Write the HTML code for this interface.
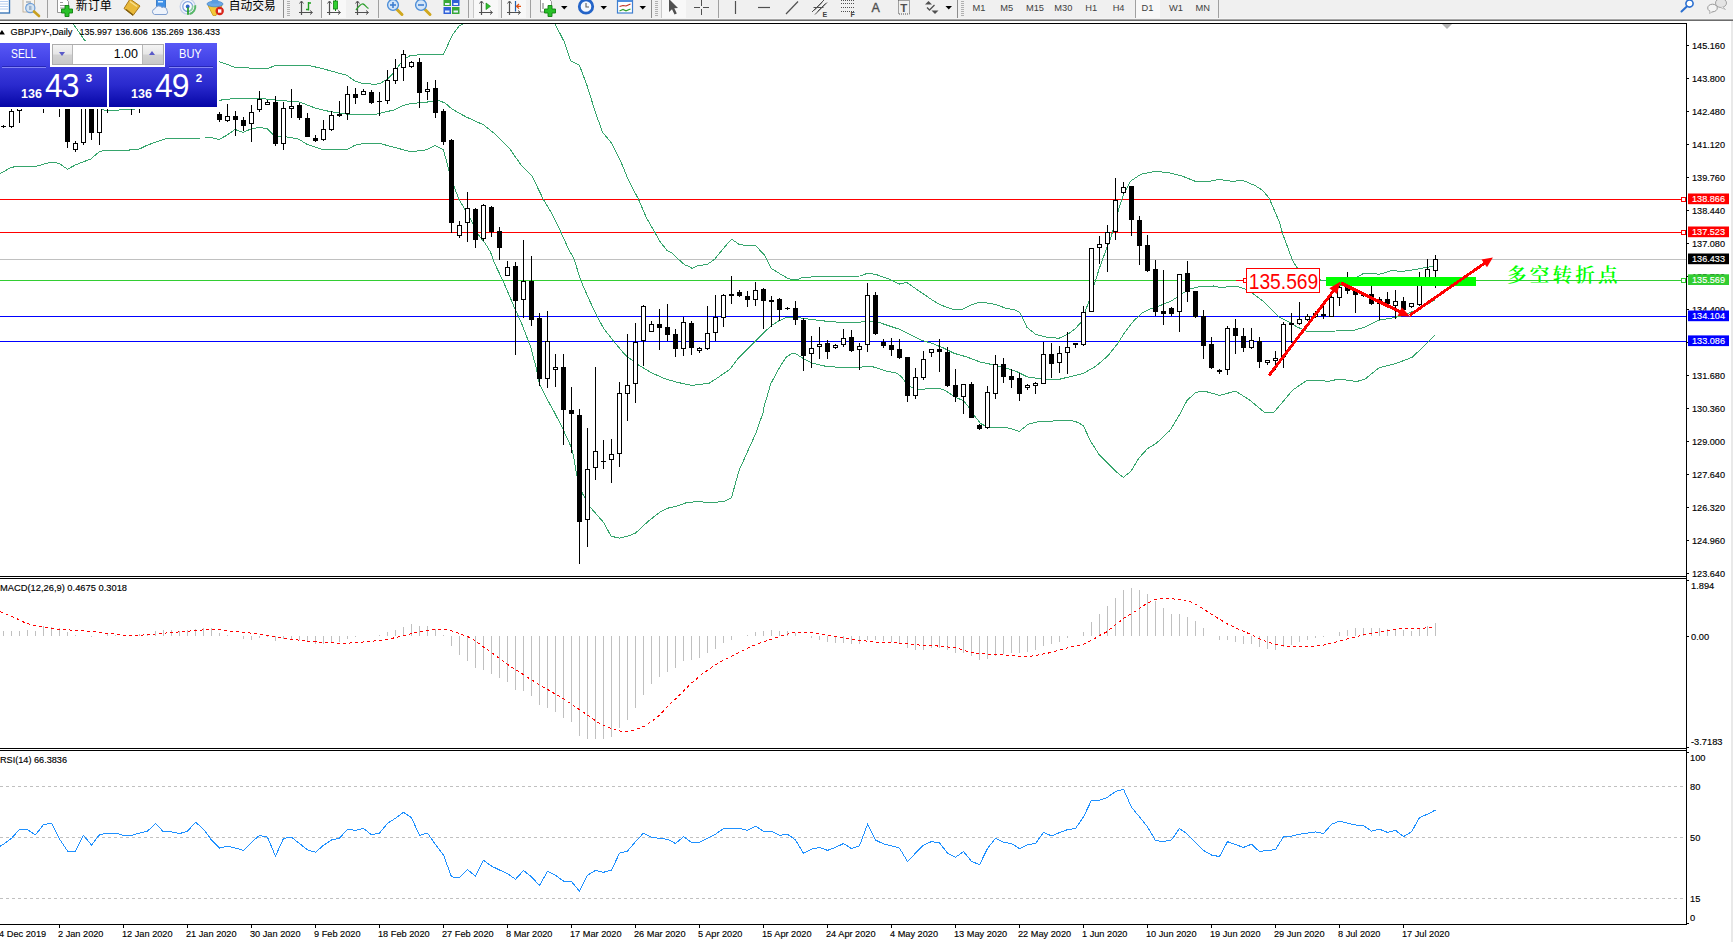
<!DOCTYPE html>
<html><head><meta charset="utf-8"><title>GBPJPY Daily</title>
<style>
html,body{margin:0;padding:0;background:#fff}
body{width:1733px;height:942px;overflow:hidden;position:relative;font-family:"Liberation Sans","Noto Sans CJK SC",sans-serif}
#tb{position:absolute;left:0;top:0;width:1733px;height:18px;background:#f0f0f0;overflow:hidden}
#tb0{position:absolute;left:0;top:18px;width:1733px;height:1px;background:#f5f5f5}
#tb1{position:absolute;left:0;top:19px;width:1733px;height:1px;background:#a6a6a6}
#tb2{position:absolute;left:0;top:20px;width:1733px;height:1px;background:#6c6c6c}
</style></head><body>
<svg width="1733" height="942" viewBox="0 0 1733 942" style="position:absolute;left:0;top:0" font-family="'Liberation Sans','Noto Sans CJK SC',sans-serif">
<defs><clipPath id="cm"><rect x="0" y="24" width="1686" height="552"/></clipPath><clipPath id="c2"><rect x="0" y="579" width="1686" height="169"/></clipPath><clipPath id="c3"><rect x="0" y="751" width="1686" height="173"/></clipPath></defs>
<g shape-rendering="crispEdges">
<rect x="0" y="23" width="1687" height="1" fill="#000" />
<rect x="1686" y="23" width="1" height="902" fill="#000" />
<rect x="0" y="576" width="1687" height="1" fill="#000" />
<rect x="0" y="578" width="1687" height="1" fill="#000" />
<rect x="0" y="748" width="1687" height="1" fill="#000" />
<rect x="0" y="750" width="1687" height="1" fill="#000" />
<rect x="0" y="924" width="1687" height="1" fill="#000" />
<rect x="1731" y="21" width="2" height="921" fill="#e9e9e9" />
</g>
<g clip-path="url(#cm)">
<g shape-rendering="crispEdges">
<rect x="0" y="199" width="1681" height="1" fill="#ff0000" />
<rect x="0" y="232" width="1681" height="1" fill="#ff0000" />
<rect x="0" y="259" width="1686" height="1" fill="#c0c0c0" />
<rect x="0" y="280" width="1681" height="1" fill="#32cd32" />
<rect x="0" y="316" width="1686" height="1" fill="#0000ff" />
<rect x="0" y="341" width="1686" height="1" fill="#0000ff" />
</g>
<rect x="1681.5" y="197.5" width="4" height="4" fill="#fff" stroke="#ff0000" stroke-width="1"/>
<rect x="1681.5" y="230.5" width="4" height="4" fill="#fff" stroke="#ff0000" stroke-width="1"/>
<rect x="1681.5" y="278.5" width="4" height="4" fill="#fff" stroke="#32cd32" stroke-width="1"/>
<polygon points="1442,24 1452,24 1447,29" fill="#b4b4b4"/>
<polyline points="66.0,10.0 73.3,24.0 84.8,40.5 95.0,50.0 140.0,56.0 200.0,58.0 219.0,61.5 235.0,67.3 251.0,68.1 268.0,68.3 275.0,65.7 308.0,65.2 325.0,69.3 347.0,75.4 355.0,81.1 363.0,83.5 375.0,84.3 380.0,83.5 387.0,79.5 395.0,71.4 403.0,59.9 411.0,55.2 427.0,54.7 435.0,54.7 443.5,54.3 452.1,35.6 459.0,26.0 462.5,24.0 470.0,10.0 510.0,-30.0 548.0,10.0 555.1,24.0 564.6,42.5 570.7,60.7 579.3,65.0 587.1,85.8 595.8,113.5 602.7,132.5 611.4,142.9 620.4,160.6 629.0,181.4 638.6,199.5 646.4,217.7 655.0,232.6 660.2,241.9 667.2,250.6 672.3,253.2 677.7,258.7 684.6,264.7 690.0,266.9 692.1,268.6 698.3,265.5 707.3,264.5 714.9,258.9 721.9,250.3 727.4,243.7 731.6,239.2 739.2,244.4 744.7,245.4 755.4,245.4 764.4,255.1 771.0,268.3 780.0,273.8 787.6,278.3 792.5,279.7 798.7,279.7 799.4,278.3 807.1,277.2 824.4,276.4 843.5,276.4 859.9,276.0 867.7,273.2 876.4,274.6 888.5,278.9 899.7,284.1 906.7,282.4 916.2,289.0 931.8,299.7 940.4,304.9 952.5,309.2 962.9,309.2 971.6,304.9 980.2,302.0 995.8,304.4 1006.2,308.4 1014.8,309.8 1020.0,312.7 1027.0,327.4 1035.6,334.3 1038.5,335.2 1048.9,337.8 1059.3,338.1 1067.9,334.3 1075.0,329.0 1081.0,322.3 1088.9,301.6 1094.4,284.2 1099.2,268.7 1106.2,249.6 1111.4,235.8 1118.3,210.7 1123.5,194.2 1130.4,181.3 1140.8,174.3 1154.6,171.4 1168.5,172.6 1182.3,176.1 1195.3,181.3 1210.0,181.3 1218.7,179.5 1232.5,181.3 1242.9,180.4 1255.0,185.6 1262.0,189.9 1268.9,197.7 1274.1,209.8 1279.3,221.9 1282.7,234.0 1287.9,247.9 1292.5,260.4 1296.8,267.3 1303.0,274.0 1312.0,279.0 1330.0,281.0 1350.0,278.5 1357.8,276.8 1362.6,274.0 1372.3,273.2 1379.3,274.3 1393.1,270.2 1400.0,271.6 1413.9,269.8 1427.7,267.1 1434.5,266.4" fill="none" stroke="#36a56c" stroke-width="1" shape-rendering="crispEdges" />
<polyline points="0.0,95.0 60.0,100.0 100.0,106.0 102.6,109.1 104.8,110.6 118.6,110.6 119.9,109.4 134.6,109.4 136.0,105.0 160.0,103.0 200.0,101.0 219.0,100.3 235.0,98.4 260.0,98.4 275.0,100.0 290.0,101.3 300.0,102.1 315.0,108.0 330.0,111.6 347.0,114.2 363.0,114.5 375.0,114.5 395.0,109.7 403.0,105.6 411.0,103.5 427.0,102.1 435.0,100.8 440.0,101.0 445.2,103.1 452.1,109.1 466.0,116.9 483.3,124.7 495.4,134.2 509.2,148.1 521.4,165.4 532.1,176.2 543.4,199.5 551.2,212.5 559.8,229.8 568.5,248.9 573.9,258.7 580.8,280.6 589.4,300.2 597.2,316.5 603.3,327.9 613.7,341.4 625.8,355.6 638.8,365.1 651.8,372.9 665.6,379.0 677.7,382.4 691.6,385.4 708.9,383.3 715.8,379.0 729.7,369.4 738.3,358.2 755.6,340.9 770.8,326.0 778.6,321.0 786.4,317.4 800.2,317.9 812.3,319.6 827.9,321.4 845.2,322.7 860.8,322.2 864.2,321.0 879.8,322.7 888.5,325.7 898.9,329.1 909.3,334.3 921.4,340.1 933.5,343.9 943.9,348.2 954.3,353.4 966.4,356.8 980.2,362.0 992.3,364.6 1006.2,368.1 1016.6,371.6 1027.0,376.8 1038.5,378.5 1048.9,379.7 1059.3,379.3 1073.1,375.9 1083.5,373.3 1095.6,366.4 1107.7,356.0 1118.1,343.0 1124.3,333.0 1133.9,320.6 1142.5,312.8 1151.2,308.5 1161.6,305.0 1171.9,300.7 1180.6,294.6 1191.0,288.6 1201.4,286.3 1213.5,286.0 1220.4,287.4 1236.0,286.3 1244.6,288.6 1253.3,293.8 1263.7,301.6 1272.3,310.2 1279.3,317.1 1289.6,322.3 1296.6,326.7 1307.0,331.3 1318.5,331.5 1335.8,331.0 1353.1,330.5 1365.2,327.0 1379.1,320.1 1394.6,317.5 1405.0,314.9 1422.3,307.1 1434.5,300.2" fill="none" stroke="#36a56c" stroke-width="1" shape-rendering="crispEdges" />
<polyline points="0.0,173.8 11.0,167.5 16.0,166.5 36.0,166.3 48.0,163.0 52.0,162.3 59.0,163.3 67.5,169.3 75.0,165.1 91.0,158.9 99.5,151.5 104.0,150.6 125.0,150.4 139.0,149.2 147.0,145.3 163.0,139.5 168.0,138.1 205.0,138.0 211.0,137.5 219.0,139.5 227.0,135.2 235.0,129.5 243.0,132.3 251.0,129.0 259.0,127.4 267.0,128.6 275.0,136.3 283.0,136.5 291.0,137.6 299.0,139.2 307.0,144.4 323.0,149.6 347.0,149.6 355.0,145.2 363.0,143.6 380.0,143.5 395.0,147.6 411.0,151.7 427.0,149.7 435.0,145.4 443.5,149.8 448.7,169.7 454.2,186.6 458.6,198.7 464.6,209.0 470.7,219.4 478.5,235.0 485.4,243.7 490.6,252.3 494.4,263.0 502.9,280.6 515.0,308.9 522.0,324.4 530.6,346.9 536.6,369.4 539.2,383.3 547.9,400.6 554.8,413.0 563.5,430.3 571.4,447.6 573.9,458.0 576.5,474.5 582.5,493.5 590.3,507.3 603.3,522.1 611.1,536.2 619.4,538.2 627.5,536.2 635.3,533.3 648.3,521.2 660.4,511.7 669.1,507.7 676.0,506.5 686.4,502.7 700.2,501.3 705.4,502.5 717.5,502.1 724.5,501.3 731.4,497.8 734.8,485.7 739.2,470.1 747.0,452.8 755.6,433.8 763.0,413.0 764.3,405.8 770.8,383.7 778.6,369.0 786.4,356.8 791.5,353.9 795.4,353.4 801.9,357.7 811.5,362.9 826.2,366.4 843.5,367.6 860.8,367.2 867.7,366.0 874.6,367.2 885.0,370.7 897.1,373.3 902.3,377.6 905.8,382.8 911.0,387.1 918.8,389.7 928.3,388.6 938.7,388.3 945.6,390.6 954.3,396.7 964.0,401.0 969.2,407.9 974.4,415.7 980.5,423.5 984.8,425.6 991.7,427.5 1007.3,427.8 1014.2,429.5 1019.1,431.6 1028.1,424.3 1038.5,421.7 1050.6,421.2 1062.7,420.4 1071.4,420.4 1078.3,422.6 1083.5,426.1 1090.4,440.8 1099.1,454.6 1107.7,463.3 1116.4,471.9 1123.3,477.5 1131.1,471.1 1138.9,458.1 1147.5,448.6 1156.2,443.4 1170.0,430.4 1180.4,413.1 1187.0,400.6 1195.6,392.3 1204.2,391.1 1219.8,395.4 1235.4,391.1 1249.2,399.7 1264.8,412.7 1273.5,412.7 1283.9,400.6 1292.5,390.2 1307.2,380.2 1328.9,381.2 1339.3,379.0 1356.6,381.6 1365.2,379.0 1379.1,367.7 1396.4,363.4 1412.0,357.3 1422.3,347.8 1434.5,335.2" fill="none" stroke="#36a56c" stroke-width="1" shape-rendering="crispEdges" />
<g shape-rendering="crispEdges">
<rect x="3" y="125" width="1" height="3" fill="#000" />
<rect x="1" y="126" width="5" height="1" fill="#000" />
<rect x="11" y="109" width="1" height="19" fill="#000" />
<rect x="9" y="111" width="5" height="16" fill="#000" />
<rect x="10" y="112" width="3" height="14" fill="#fff" />
<rect x="19" y="95" width="1" height="28" fill="#000" />
<rect x="17" y="100" width="5" height="11" fill="#000" />
<rect x="18" y="101" width="3" height="9" fill="#fff" />
<rect x="27" y="80" width="1" height="22" fill="#000" />
<rect x="25" y="85" width="5" height="15" fill="#000" />
<rect x="26" y="86" width="3" height="13" fill="#fff" />
<rect x="35" y="80" width="1" height="22" fill="#000" />
<rect x="33" y="85" width="5" height="15" fill="#000" />
<rect x="43" y="80" width="1" height="33" fill="#000" />
<rect x="41" y="85" width="5" height="15" fill="#000" />
<rect x="51" y="80" width="1" height="22" fill="#000" />
<rect x="49" y="85" width="5" height="15" fill="#000" />
<rect x="50" y="86" width="3" height="13" fill="#fff" />
<rect x="59" y="80" width="1" height="37" fill="#000" />
<rect x="57" y="85" width="5" height="15" fill="#000" />
<rect x="67" y="80" width="1" height="68" fill="#000" />
<rect x="65" y="85" width="5" height="57" fill="#000" />
<rect x="75" y="141" width="1" height="11" fill="#000" />
<rect x="73" y="143" width="5" height="7" fill="#000" />
<rect x="74" y="144" width="3" height="5" fill="#fff" />
<rect x="83" y="90" width="1" height="55" fill="#000" />
<rect x="81" y="95" width="5" height="48" fill="#000" />
<rect x="82" y="96" width="3" height="46" fill="#fff" />
<rect x="91" y="90" width="1" height="50" fill="#000" />
<rect x="89" y="95" width="5" height="38" fill="#000" />
<rect x="99" y="90" width="1" height="55" fill="#000" />
<rect x="97" y="95" width="5" height="38" fill="#000" />
<rect x="98" y="96" width="3" height="36" fill="#fff" />
<rect x="107" y="80" width="1" height="33" fill="#000" />
<rect x="105" y="85" width="5" height="15" fill="#000" />
<rect x="106" y="86" width="3" height="13" fill="#fff" />
<rect x="115" y="80" width="1" height="22" fill="#000" />
<rect x="113" y="85" width="5" height="15" fill="#000" />
<rect x="123" y="80" width="1" height="22" fill="#000" />
<rect x="121" y="85" width="5" height="15" fill="#000" />
<rect x="122" y="86" width="3" height="13" fill="#fff" />
<rect x="131" y="80" width="1" height="35" fill="#000" />
<rect x="129" y="85" width="5" height="15" fill="#000" />
<rect x="139" y="80" width="1" height="33" fill="#000" />
<rect x="137" y="85" width="5" height="15" fill="#000" />
<rect x="138" y="86" width="3" height="13" fill="#fff" />
<rect x="147" y="70" width="1" height="30" fill="#000" />
<rect x="145" y="75" width="5" height="20" fill="#000" />
<rect x="146" y="76" width="3" height="18" fill="#fff" />
<rect x="155" y="70" width="1" height="30" fill="#000" />
<rect x="153" y="75" width="5" height="20" fill="#000" />
<rect x="163" y="70" width="1" height="30" fill="#000" />
<rect x="161" y="75" width="5" height="20" fill="#000" />
<rect x="162" y="76" width="3" height="18" fill="#fff" />
<rect x="171" y="70" width="1" height="30" fill="#000" />
<rect x="169" y="75" width="5" height="20" fill="#000" />
<rect x="170" y="76" width="3" height="18" fill="#fff" />
<rect x="179" y="70" width="1" height="30" fill="#000" />
<rect x="177" y="75" width="5" height="20" fill="#000" />
<rect x="187" y="70" width="1" height="30" fill="#000" />
<rect x="185" y="75" width="5" height="20" fill="#000" />
<rect x="186" y="76" width="3" height="18" fill="#fff" />
<rect x="195" y="70" width="1" height="30" fill="#000" />
<rect x="193" y="75" width="5" height="20" fill="#000" />
<rect x="203" y="70" width="1" height="30" fill="#000" />
<rect x="201" y="75" width="5" height="20" fill="#000" />
<rect x="202" y="76" width="3" height="18" fill="#fff" />
<rect x="211" y="70" width="1" height="30" fill="#000" />
<rect x="209" y="75" width="5" height="20" fill="#000" />
<rect x="219" y="112" width="1" height="10" fill="#000" />
<rect x="217" y="114" width="5" height="6" fill="#000" />
<rect x="227" y="104" width="1" height="18" fill="#000" />
<rect x="225" y="116" width="5" height="5" fill="#000" />
<rect x="226" y="117" width="3" height="3" fill="#fff" />
<rect x="235" y="111" width="1" height="25" fill="#000" />
<rect x="233" y="116" width="5" height="4" fill="#000" />
<rect x="243" y="117" width="1" height="14" fill="#000" />
<rect x="241" y="120" width="5" height="6" fill="#000" />
<rect x="251" y="105" width="1" height="37" fill="#000" />
<rect x="249" y="112" width="5" height="12" fill="#000" />
<rect x="250" y="113" width="3" height="10" fill="#fff" />
<rect x="259" y="91" width="1" height="21" fill="#000" />
<rect x="257" y="99" width="5" height="11" fill="#000" />
<rect x="258" y="100" width="3" height="9" fill="#fff" />
<rect x="267" y="100" width="1" height="5" fill="#000" />
<rect x="265" y="102" width="5" height="3" fill="#000" />
<rect x="266" y="103" width="3" height="1" fill="#fff" />
<rect x="275" y="96" width="1" height="50" fill="#000" />
<rect x="273" y="102" width="5" height="42" fill="#000" />
<rect x="283" y="102" width="1" height="48" fill="#000" />
<rect x="281" y="108" width="5" height="36" fill="#000" />
<rect x="282" y="109" width="3" height="34" fill="#fff" />
<rect x="291" y="89" width="1" height="29" fill="#000" />
<rect x="289" y="106" width="5" height="3" fill="#000" />
<rect x="290" y="107" width="3" height="1" fill="#fff" />
<rect x="299" y="103" width="1" height="17" fill="#000" />
<rect x="297" y="105" width="5" height="13" fill="#000" />
<rect x="307" y="113" width="1" height="24" fill="#000" />
<rect x="305" y="118" width="5" height="19" fill="#000" />
<rect x="315" y="135" width="1" height="7" fill="#000" />
<rect x="313" y="138" width="5" height="3" fill="#000" />
<rect x="323" y="120" width="1" height="21" fill="#000" />
<rect x="321" y="129" width="5" height="11" fill="#000" />
<rect x="322" y="130" width="3" height="9" fill="#fff" />
<rect x="331" y="111" width="1" height="20" fill="#000" />
<rect x="329" y="115" width="5" height="15" fill="#000" />
<rect x="330" y="116" width="3" height="13" fill="#fff" />
<rect x="339" y="101" width="1" height="16" fill="#000" />
<rect x="337" y="114" width="5" height="2" fill="#000" />
<rect x="347" y="86" width="1" height="34" fill="#000" />
<rect x="345" y="94" width="5" height="20" fill="#000" />
<rect x="346" y="95" width="3" height="18" fill="#fff" />
<rect x="355" y="88" width="1" height="16" fill="#000" />
<rect x="353" y="94" width="5" height="4" fill="#000" />
<rect x="363" y="89" width="1" height="6" fill="#000" />
<rect x="361" y="91" width="5" height="4" fill="#000" />
<rect x="362" y="92" width="3" height="2" fill="#fff" />
<rect x="371" y="90" width="1" height="14" fill="#000" />
<rect x="369" y="92" width="5" height="11" fill="#000" />
<rect x="379" y="92" width="1" height="24" fill="#000" />
<rect x="377" y="101" width="5" height="1" fill="#000" />
<rect x="387" y="70" width="1" height="34" fill="#000" />
<rect x="385" y="80" width="5" height="21" fill="#000" />
<rect x="386" y="81" width="3" height="19" fill="#fff" />
<rect x="395" y="59" width="1" height="25" fill="#000" />
<rect x="393" y="68" width="5" height="13" fill="#000" />
<rect x="394" y="69" width="3" height="11" fill="#fff" />
<rect x="403" y="50" width="1" height="31" fill="#000" />
<rect x="401" y="54" width="5" height="14" fill="#000" />
<rect x="402" y="55" width="3" height="12" fill="#fff" />
<rect x="411" y="61" width="1" height="7" fill="#000" />
<rect x="409" y="62" width="5" height="5" fill="#000" />
<rect x="410" y="63" width="3" height="3" fill="#fff" />
<rect x="419" y="58" width="1" height="50" fill="#000" />
<rect x="417" y="62" width="5" height="31" fill="#000" />
<rect x="427" y="82" width="1" height="18" fill="#000" />
<rect x="425" y="89" width="5" height="3" fill="#000" />
<rect x="426" y="90" width="3" height="1" fill="#fff" />
<rect x="435" y="80" width="1" height="38" fill="#000" />
<rect x="433" y="88" width="5" height="25" fill="#000" />
<rect x="443" y="109" width="1" height="36" fill="#000" />
<rect x="441" y="111" width="5" height="31" fill="#000" />
<rect x="451" y="139" width="1" height="94" fill="#000" />
<rect x="449" y="140" width="5" height="83" fill="#000" />
<rect x="459" y="221" width="1" height="17" fill="#000" />
<rect x="457" y="225" width="5" height="11" fill="#000" />
<rect x="458" y="226" width="3" height="9" fill="#fff" />
<rect x="467" y="192" width="1" height="50" fill="#000" />
<rect x="465" y="208" width="5" height="15" fill="#000" />
<rect x="466" y="209" width="3" height="13" fill="#fff" />
<rect x="475" y="208" width="1" height="40" fill="#000" />
<rect x="473" y="209" width="5" height="31" fill="#000" />
<rect x="483" y="204" width="1" height="37" fill="#000" />
<rect x="481" y="205" width="5" height="34" fill="#000" />
<rect x="482" y="206" width="3" height="32" fill="#fff" />
<rect x="491" y="206" width="1" height="31" fill="#000" />
<rect x="489" y="207" width="5" height="25" fill="#000" />
<rect x="499" y="227" width="1" height="33" fill="#000" />
<rect x="497" y="231" width="5" height="17" fill="#000" />
<rect x="507" y="261" width="1" height="15" fill="#000" />
<rect x="505" y="267" width="5" height="9" fill="#000" />
<rect x="506" y="268" width="3" height="7" fill="#fff" />
<rect x="515" y="262" width="1" height="93" fill="#000" />
<rect x="513" y="266" width="5" height="35" fill="#000" />
<rect x="523" y="240" width="1" height="78" fill="#000" />
<rect x="521" y="281" width="5" height="19" fill="#000" />
<rect x="522" y="282" width="3" height="17" fill="#fff" />
<rect x="531" y="256" width="1" height="70" fill="#000" />
<rect x="529" y="281" width="5" height="39" fill="#000" />
<rect x="539" y="313" width="1" height="73" fill="#000" />
<rect x="537" y="318" width="5" height="61" fill="#000" />
<rect x="547" y="311" width="1" height="77" fill="#000" />
<rect x="545" y="341" width="5" height="38" fill="#000" />
<rect x="546" y="342" width="3" height="36" fill="#fff" />
<rect x="555" y="354" width="1" height="33" fill="#000" />
<rect x="553" y="367" width="5" height="3" fill="#000" />
<rect x="554" y="368" width="3" height="1" fill="#fff" />
<rect x="563" y="354" width="1" height="91" fill="#000" />
<rect x="561" y="367" width="5" height="43" fill="#000" />
<rect x="571" y="387" width="1" height="66" fill="#000" />
<rect x="569" y="410" width="5" height="4" fill="#000" />
<rect x="579" y="409" width="1" height="155" fill="#000" />
<rect x="577" y="415" width="5" height="107" fill="#000" />
<rect x="587" y="428" width="1" height="119" fill="#000" />
<rect x="585" y="469" width="5" height="51" fill="#000" />
<rect x="586" y="470" width="3" height="49" fill="#fff" />
<rect x="595" y="367" width="1" height="113" fill="#000" />
<rect x="593" y="451" width="5" height="17" fill="#000" />
<rect x="594" y="452" width="3" height="15" fill="#fff" />
<rect x="603" y="440" width="1" height="29" fill="#000" />
<rect x="601" y="461" width="5" height="1" fill="#000" />
<rect x="611" y="439" width="1" height="44" fill="#000" />
<rect x="609" y="454" width="5" height="6" fill="#000" />
<rect x="610" y="455" width="3" height="4" fill="#fff" />
<rect x="619" y="382" width="1" height="85" fill="#000" />
<rect x="617" y="393" width="5" height="61" fill="#000" />
<rect x="618" y="394" width="3" height="59" fill="#fff" />
<rect x="627" y="334" width="1" height="87" fill="#000" />
<rect x="625" y="385" width="5" height="9" fill="#000" />
<rect x="626" y="386" width="3" height="7" fill="#fff" />
<rect x="635" y="323" width="1" height="80" fill="#000" />
<rect x="633" y="342" width="5" height="42" fill="#000" />
<rect x="634" y="343" width="3" height="40" fill="#fff" />
<rect x="643" y="305" width="1" height="61" fill="#000" />
<rect x="641" y="306" width="5" height="35" fill="#000" />
<rect x="642" y="307" width="3" height="33" fill="#fff" />
<rect x="651" y="321" width="1" height="11" fill="#000" />
<rect x="649" y="324" width="5" height="8" fill="#000" />
<rect x="650" y="325" width="3" height="6" fill="#fff" />
<rect x="659" y="309" width="1" height="41" fill="#000" />
<rect x="657" y="324" width="5" height="4" fill="#000" />
<rect x="667" y="304" width="1" height="37" fill="#000" />
<rect x="665" y="327" width="5" height="8" fill="#000" />
<rect x="675" y="329" width="1" height="28" fill="#000" />
<rect x="673" y="334" width="5" height="15" fill="#000" />
<rect x="683" y="317" width="1" height="39" fill="#000" />
<rect x="681" y="322" width="5" height="27" fill="#000" />
<rect x="682" y="323" width="3" height="25" fill="#fff" />
<rect x="691" y="321" width="1" height="34" fill="#000" />
<rect x="689" y="323" width="5" height="25" fill="#000" />
<rect x="699" y="347" width="1" height="6" fill="#000" />
<rect x="697" y="348" width="5" height="3" fill="#000" />
<rect x="698" y="349" width="3" height="1" fill="#fff" />
<rect x="707" y="306" width="1" height="44" fill="#000" />
<rect x="705" y="333" width="5" height="16" fill="#000" />
<rect x="706" y="334" width="3" height="14" fill="#fff" />
<rect x="715" y="295" width="1" height="46" fill="#000" />
<rect x="713" y="317" width="5" height="16" fill="#000" />
<rect x="714" y="318" width="3" height="14" fill="#fff" />
<rect x="723" y="294" width="1" height="33" fill="#000" />
<rect x="721" y="295" width="5" height="23" fill="#000" />
<rect x="722" y="296" width="3" height="21" fill="#fff" />
<rect x="731" y="276" width="1" height="28" fill="#000" />
<rect x="729" y="294" width="5" height="2" fill="#000" />
<rect x="739" y="290" width="1" height="7" fill="#000" />
<rect x="737" y="292" width="5" height="4" fill="#000" />
<rect x="747" y="291" width="1" height="16" fill="#000" />
<rect x="745" y="296" width="5" height="4" fill="#000" />
<rect x="755" y="282" width="1" height="24" fill="#000" />
<rect x="753" y="290" width="5" height="10" fill="#000" />
<rect x="754" y="291" width="3" height="8" fill="#fff" />
<rect x="763" y="288" width="1" height="41" fill="#000" />
<rect x="761" y="289" width="5" height="12" fill="#000" />
<rect x="771" y="296" width="1" height="31" fill="#000" />
<rect x="769" y="300" width="5" height="2" fill="#000" />
<rect x="779" y="298" width="1" height="23" fill="#000" />
<rect x="777" y="299" width="5" height="11" fill="#000" />
<rect x="787" y="307" width="1" height="3" fill="#000" />
<rect x="785" y="308" width="5" height="1" fill="#000" />
<rect x="795" y="301" width="1" height="24" fill="#000" />
<rect x="793" y="308" width="5" height="12" fill="#000" />
<rect x="803" y="318" width="1" height="53" fill="#000" />
<rect x="801" y="320" width="5" height="36" fill="#000" />
<rect x="811" y="336" width="1" height="32" fill="#000" />
<rect x="809" y="348" width="5" height="6" fill="#000" />
<rect x="810" y="349" width="3" height="4" fill="#fff" />
<rect x="819" y="327" width="1" height="32" fill="#000" />
<rect x="817" y="344" width="5" height="3" fill="#000" />
<rect x="818" y="345" width="3" height="1" fill="#fff" />
<rect x="827" y="340" width="1" height="19" fill="#000" />
<rect x="825" y="343" width="5" height="9" fill="#000" />
<rect x="835" y="344" width="1" height="5" fill="#000" />
<rect x="833" y="345" width="5" height="3" fill="#000" />
<rect x="834" y="346" width="3" height="1" fill="#fff" />
<rect x="843" y="329" width="1" height="18" fill="#000" />
<rect x="841" y="338" width="5" height="7" fill="#000" />
<rect x="842" y="339" width="3" height="5" fill="#fff" />
<rect x="851" y="330" width="1" height="22" fill="#000" />
<rect x="849" y="337" width="5" height="14" fill="#000" />
<rect x="859" y="343" width="1" height="27" fill="#000" />
<rect x="857" y="346" width="5" height="4" fill="#000" />
<rect x="858" y="347" width="3" height="2" fill="#fff" />
<rect x="867" y="283" width="1" height="69" fill="#000" />
<rect x="865" y="295" width="5" height="50" fill="#000" />
<rect x="866" y="296" width="3" height="48" fill="#fff" />
<rect x="875" y="292" width="1" height="43" fill="#000" />
<rect x="873" y="295" width="5" height="39" fill="#000" />
<rect x="883" y="339" width="1" height="9" fill="#000" />
<rect x="881" y="342" width="5" height="4" fill="#000" />
<rect x="891" y="338" width="1" height="18" fill="#000" />
<rect x="889" y="345" width="5" height="5" fill="#000" />
<rect x="899" y="339" width="1" height="20" fill="#000" />
<rect x="897" y="349" width="5" height="9" fill="#000" />
<rect x="907" y="357" width="1" height="45" fill="#000" />
<rect x="905" y="357" width="5" height="39" fill="#000" />
<rect x="915" y="368" width="1" height="31" fill="#000" />
<rect x="913" y="377" width="5" height="19" fill="#000" />
<rect x="914" y="378" width="3" height="17" fill="#fff" />
<rect x="923" y="351" width="1" height="29" fill="#000" />
<rect x="921" y="359" width="5" height="19" fill="#000" />
<rect x="922" y="360" width="3" height="17" fill="#fff" />
<rect x="931" y="349" width="1" height="8" fill="#000" />
<rect x="929" y="349" width="5" height="4" fill="#000" />
<rect x="930" y="350" width="3" height="2" fill="#fff" />
<rect x="939" y="339" width="1" height="33" fill="#000" />
<rect x="937" y="349" width="5" height="3" fill="#000" />
<rect x="947" y="347" width="1" height="40" fill="#000" />
<rect x="945" y="352" width="5" height="34" fill="#000" />
<rect x="955" y="369" width="1" height="33" fill="#000" />
<rect x="953" y="385" width="5" height="12" fill="#000" />
<rect x="963" y="384" width="1" height="30" fill="#000" />
<rect x="961" y="384" width="5" height="13" fill="#000" />
<rect x="962" y="385" width="3" height="11" fill="#fff" />
<rect x="971" y="382" width="1" height="36" fill="#000" />
<rect x="969" y="384" width="5" height="34" fill="#000" />
<rect x="979" y="424" width="1" height="6" fill="#000" />
<rect x="977" y="425" width="5" height="4" fill="#000" />
<rect x="987" y="386" width="1" height="43" fill="#000" />
<rect x="985" y="392" width="5" height="36" fill="#000" />
<rect x="986" y="393" width="3" height="34" fill="#fff" />
<rect x="995" y="355" width="1" height="44" fill="#000" />
<rect x="993" y="364" width="5" height="30" fill="#000" />
<rect x="994" y="365" width="3" height="28" fill="#fff" />
<rect x="1003" y="358" width="1" height="25" fill="#000" />
<rect x="1001" y="364" width="5" height="13" fill="#000" />
<rect x="1011" y="369" width="1" height="19" fill="#000" />
<rect x="1009" y="376" width="5" height="4" fill="#000" />
<rect x="1019" y="373" width="1" height="28" fill="#000" />
<rect x="1017" y="378" width="5" height="16" fill="#000" />
<rect x="1027" y="384" width="1" height="6" fill="#000" />
<rect x="1025" y="385" width="5" height="3" fill="#000" />
<rect x="1026" y="386" width="3" height="1" fill="#fff" />
<rect x="1035" y="382" width="1" height="12" fill="#000" />
<rect x="1033" y="383" width="5" height="3" fill="#000" />
<rect x="1034" y="384" width="3" height="1" fill="#fff" />
<rect x="1043" y="342" width="1" height="42" fill="#000" />
<rect x="1041" y="354" width="5" height="30" fill="#000" />
<rect x="1042" y="355" width="3" height="28" fill="#fff" />
<rect x="1051" y="343" width="1" height="35" fill="#000" />
<rect x="1049" y="354" width="5" height="10" fill="#000" />
<rect x="1059" y="346" width="1" height="27" fill="#000" />
<rect x="1057" y="353" width="5" height="10" fill="#000" />
<rect x="1058" y="354" width="3" height="8" fill="#fff" />
<rect x="1067" y="332" width="1" height="42" fill="#000" />
<rect x="1065" y="347" width="5" height="6" fill="#000" />
<rect x="1066" y="348" width="3" height="4" fill="#fff" />
<rect x="1075" y="343" width="1" height="5" fill="#000" />
<rect x="1073" y="343" width="5" height="2" fill="#000" />
<rect x="1083" y="306" width="1" height="40" fill="#000" />
<rect x="1081" y="312" width="5" height="33" fill="#000" />
<rect x="1082" y="313" width="3" height="31" fill="#fff" />
<rect x="1091" y="248" width="1" height="64" fill="#000" />
<rect x="1089" y="248" width="5" height="64" fill="#000" />
<rect x="1090" y="249" width="3" height="62" fill="#fff" />
<rect x="1099" y="236" width="1" height="28" fill="#000" />
<rect x="1097" y="244" width="5" height="4" fill="#000" />
<rect x="1098" y="245" width="3" height="2" fill="#fff" />
<rect x="1107" y="225" width="1" height="47" fill="#000" />
<rect x="1105" y="232" width="5" height="12" fill="#000" />
<rect x="1106" y="233" width="3" height="10" fill="#fff" />
<rect x="1115" y="178" width="1" height="62" fill="#000" />
<rect x="1113" y="200" width="5" height="32" fill="#000" />
<rect x="1114" y="201" width="3" height="30" fill="#fff" />
<rect x="1123" y="182" width="1" height="12" fill="#000" />
<rect x="1121" y="187" width="5" height="6" fill="#000" />
<rect x="1122" y="188" width="3" height="4" fill="#fff" />
<rect x="1131" y="186" width="1" height="50" fill="#000" />
<rect x="1129" y="186" width="5" height="34" fill="#000" />
<rect x="1139" y="216" width="1" height="49" fill="#000" />
<rect x="1137" y="220" width="5" height="26" fill="#000" />
<rect x="1147" y="235" width="1" height="37" fill="#000" />
<rect x="1145" y="245" width="5" height="26" fill="#000" />
<rect x="1155" y="260" width="1" height="56" fill="#000" />
<rect x="1153" y="269" width="5" height="43" fill="#000" />
<rect x="1163" y="270" width="1" height="55" fill="#000" />
<rect x="1161" y="311" width="5" height="3" fill="#000" />
<rect x="1171" y="307" width="1" height="9" fill="#000" />
<rect x="1169" y="308" width="5" height="6" fill="#000" />
<rect x="1179" y="274" width="1" height="58" fill="#000" />
<rect x="1177" y="274" width="5" height="38" fill="#000" />
<rect x="1178" y="275" width="3" height="36" fill="#fff" />
<rect x="1187" y="261" width="1" height="41" fill="#000" />
<rect x="1185" y="273" width="5" height="19" fill="#000" />
<rect x="1195" y="291" width="1" height="27" fill="#000" />
<rect x="1193" y="291" width="5" height="26" fill="#000" />
<rect x="1203" y="310" width="1" height="49" fill="#000" />
<rect x="1201" y="316" width="5" height="30" fill="#000" />
<rect x="1211" y="337" width="1" height="32" fill="#000" />
<rect x="1209" y="344" width="5" height="24" fill="#000" />
<rect x="1219" y="369" width="1" height="5" fill="#000" />
<rect x="1217" y="370" width="5" height="2" fill="#000" />
<rect x="1227" y="326" width="1" height="49" fill="#000" />
<rect x="1225" y="328" width="5" height="42" fill="#000" />
<rect x="1226" y="329" width="3" height="40" fill="#fff" />
<rect x="1235" y="319" width="1" height="35" fill="#000" />
<rect x="1233" y="328" width="5" height="8" fill="#000" />
<rect x="1243" y="328" width="1" height="24" fill="#000" />
<rect x="1241" y="336" width="5" height="12" fill="#000" />
<rect x="1251" y="328" width="1" height="21" fill="#000" />
<rect x="1249" y="340" width="5" height="8" fill="#000" />
<rect x="1250" y="341" width="3" height="6" fill="#fff" />
<rect x="1259" y="337" width="1" height="31" fill="#000" />
<rect x="1257" y="341" width="5" height="21" fill="#000" />
<rect x="1267" y="360" width="1" height="5" fill="#000" />
<rect x="1265" y="360" width="5" height="3" fill="#000" />
<rect x="1266" y="361" width="3" height="1" fill="#fff" />
<rect x="1275" y="351" width="1" height="19" fill="#000" />
<rect x="1273" y="358" width="5" height="3" fill="#000" />
<rect x="1274" y="359" width="3" height="1" fill="#fff" />
<rect x="1283" y="322" width="1" height="46" fill="#000" />
<rect x="1281" y="324" width="5" height="33" fill="#000" />
<rect x="1282" y="325" width="3" height="31" fill="#fff" />
<rect x="1291" y="313" width="1" height="30" fill="#000" />
<rect x="1289" y="323" width="5" height="2" fill="#000" />
<rect x="1299" y="302" width="1" height="23" fill="#000" />
<rect x="1297" y="319" width="5" height="5" fill="#000" />
<rect x="1298" y="320" width="3" height="3" fill="#fff" />
<rect x="1307" y="314" width="1" height="7" fill="#000" />
<rect x="1305" y="316" width="5" height="4" fill="#000" />
<rect x="1306" y="317" width="3" height="2" fill="#fff" />
<rect x="1315" y="311" width="1" height="7" fill="#000" />
<rect x="1313" y="313" width="5" height="4" fill="#000" />
<rect x="1314" y="314" width="3" height="2" fill="#fff" />
<rect x="1323" y="306" width="1" height="13" fill="#000" />
<rect x="1321" y="314" width="5" height="2" fill="#000" />
<rect x="1331" y="292" width="1" height="25" fill="#000" />
<rect x="1329" y="297" width="5" height="20" fill="#000" />
<rect x="1330" y="298" width="3" height="18" fill="#fff" />
<rect x="1339" y="282" width="1" height="24" fill="#000" />
<rect x="1337" y="287" width="5" height="11" fill="#000" />
<rect x="1338" y="288" width="3" height="9" fill="#fff" />
<rect x="1347" y="272" width="1" height="22" fill="#000" />
<rect x="1345" y="287" width="5" height="4" fill="#000" />
<rect x="1355" y="291" width="1" height="22" fill="#000" />
<rect x="1353" y="291" width="5" height="4" fill="#000" />
<rect x="1363" y="292" width="1" height="5" fill="#000" />
<rect x="1361" y="294" width="5" height="2" fill="#000" />
<rect x="1371" y="286" width="1" height="19" fill="#000" />
<rect x="1369" y="294" width="5" height="10" fill="#000" />
<rect x="1379" y="297" width="1" height="23" fill="#000" />
<rect x="1377" y="299" width="5" height="5" fill="#000" />
<rect x="1378" y="300" width="3" height="3" fill="#fff" />
<rect x="1387" y="292" width="1" height="16" fill="#000" />
<rect x="1385" y="299" width="5" height="5" fill="#000" />
<rect x="1395" y="290" width="1" height="29" fill="#000" />
<rect x="1393" y="301" width="5" height="5" fill="#000" />
<rect x="1394" y="302" width="3" height="3" fill="#fff" />
<rect x="1403" y="297" width="1" height="19" fill="#000" />
<rect x="1401" y="301" width="5" height="9" fill="#000" />
<rect x="1411" y="303" width="1" height="5" fill="#000" />
<rect x="1409" y="303" width="5" height="4" fill="#000" />
<rect x="1410" y="304" width="3" height="2" fill="#fff" />
<rect x="1419" y="272" width="1" height="34" fill="#000" />
<rect x="1417" y="285" width="5" height="20" fill="#000" />
<rect x="1418" y="286" width="3" height="18" fill="#fff" />
<rect x="1427" y="259" width="1" height="22" fill="#000" />
<rect x="1425" y="269" width="5" height="12" fill="#000" />
<rect x="1426" y="270" width="3" height="10" fill="#fff" />
<rect x="1435" y="255" width="1" height="33" fill="#000" />
<rect x="1433" y="259" width="5" height="12" fill="#000" />
<rect x="1434" y="260" width="3" height="10" fill="#fff" />
</g>
<rect x="1326" y="277" width="150" height="9" fill="#00ff00" shape-rendering="crispEdges"/>
<line x1="1269.0" y1="375.5" x2="1334.4" y2="289.6" stroke="#ff0000" stroke-width="2.9" shape-rendering="crispEdges"/><polygon points="1340.5,281.6 1337.0,294.1 1329.4,288.2" fill="#ff0000"/>
<line x1="1341.0" y1="283.1" x2="1401.5" y2="312.5" stroke="#ff0000" stroke-width="3.3" shape-rendering="crispEdges"/><polygon points="1410.0,316.6 1397.6,315.9 1401.8,307.3" fill="#ff0000"/>
<line x1="1409.6" y1="315.4" x2="1485.9" y2="262.3" stroke="#ff0000" stroke-width="2.9" shape-rendering="crispEdges"/><polygon points="1492.9,257.4 1487.0,267.3 1481.5,259.5" fill="#ff0000"/>
<line x1="1236" y1="280.5" x2="1244" y2="280.5" stroke="#ff0000" stroke-width="1"/>
<rect x="1243.5" y="278.5" width="3" height="4" fill="#fff" stroke="#ff0000" stroke-width="1"/>
<rect x="1246.5" y="268.5" width="73" height="24" fill="#fff" stroke="#ff0000" stroke-width="1"/>
<text x="1248.7" y="288.9" font-size="22" fill="#ff0000" textLength="69.6" lengthAdjust="spacingAndGlyphs">135.569</text>
<text x="1507" y="282.3" font-size="19.6" fill="#00ff00" font-family="'Noto Serif CJK SC',serif" font-weight="600" textLength="110.5" lengthAdjust="spacing">多空转折点</text>
</g>
<polygon points="-1,34.4 4.9,34.4 1.95,30" fill="#000"/>
<text x="10.5" y="35" font-size="9.7" fill="#000" stroke="#000" stroke-width="0.14" textLength="62" lengthAdjust="spacingAndGlyphs">GBPJPY-,Daily</text>
<text x="79.6" y="35" font-size="9.7" fill="#000" stroke="#000" stroke-width="0.14" textLength="32.4" lengthAdjust="spacingAndGlyphs">135.997</text>
<text x="115.3" y="35" font-size="9.7" fill="#000" stroke="#000" stroke-width="0.14" textLength="32.4" lengthAdjust="spacingAndGlyphs">136.606</text>
<text x="151.4" y="35" font-size="9.7" fill="#000" stroke="#000" stroke-width="0.14" textLength="32.4" lengthAdjust="spacingAndGlyphs">135.269</text>
<text x="187.6" y="35" font-size="9.7" fill="#000" stroke="#000" stroke-width="0.14" textLength="32.4" lengthAdjust="spacingAndGlyphs">136.433</text>
<rect x="1687" y="45" width="2" height="1" fill="#000" shape-rendering="crispEdges"/>
<text x="1692" y="48.8" font-size="9.3" fill="#000" stroke="#000" stroke-width="0.14" textLength="33" lengthAdjust="spacingAndGlyphs">145.160</text>
<rect x="1687" y="78" width="2" height="1" fill="#000" shape-rendering="crispEdges"/>
<text x="1692" y="81.8" font-size="9.3" fill="#000" stroke="#000" stroke-width="0.14" textLength="33" lengthAdjust="spacingAndGlyphs">143.800</text>
<rect x="1687" y="111" width="2" height="1" fill="#000" shape-rendering="crispEdges"/>
<text x="1692" y="114.8" font-size="9.3" fill="#000" stroke="#000" stroke-width="0.14" textLength="33" lengthAdjust="spacingAndGlyphs">142.480</text>
<rect x="1687" y="144" width="2" height="1" fill="#000" shape-rendering="crispEdges"/>
<text x="1692" y="147.7" font-size="9.3" fill="#000" stroke="#000" stroke-width="0.14" textLength="33" lengthAdjust="spacingAndGlyphs">141.120</text>
<rect x="1687" y="177" width="2" height="1" fill="#000" shape-rendering="crispEdges"/>
<text x="1692" y="180.7" font-size="9.3" fill="#000" stroke="#000" stroke-width="0.14" textLength="33" lengthAdjust="spacingAndGlyphs">139.760</text>
<rect x="1687" y="210" width="2" height="1" fill="#000" shape-rendering="crispEdges"/>
<text x="1692" y="213.7" font-size="9.3" fill="#000" stroke="#000" stroke-width="0.14" textLength="33" lengthAdjust="spacingAndGlyphs">138.440</text>
<rect x="1687" y="243" width="2" height="1" fill="#000" shape-rendering="crispEdges"/>
<text x="1692" y="246.7" font-size="9.3" fill="#000" stroke="#000" stroke-width="0.14" textLength="33" lengthAdjust="spacingAndGlyphs">137.080</text>
<rect x="1687" y="276" width="2" height="1" fill="#000" shape-rendering="crispEdges"/>
<text x="1692" y="279.7" font-size="9.3" fill="#000" stroke="#000" stroke-width="0.14" textLength="33" lengthAdjust="spacingAndGlyphs">135.720</text>
<rect x="1687" y="309" width="2" height="1" fill="#000" shape-rendering="crispEdges"/>
<text x="1692" y="312.6" font-size="9.3" fill="#000" stroke="#000" stroke-width="0.14" textLength="33" lengthAdjust="spacingAndGlyphs">134.400</text>
<rect x="1687" y="342" width="2" height="1" fill="#000" shape-rendering="crispEdges"/>
<text x="1692" y="345.6" font-size="9.3" fill="#000" stroke="#000" stroke-width="0.14" textLength="33" lengthAdjust="spacingAndGlyphs">133.040</text>
<rect x="1687" y="375" width="2" height="1" fill="#000" shape-rendering="crispEdges"/>
<text x="1692" y="378.6" font-size="9.3" fill="#000" stroke="#000" stroke-width="0.14" textLength="33" lengthAdjust="spacingAndGlyphs">131.680</text>
<rect x="1687" y="408" width="2" height="1" fill="#000" shape-rendering="crispEdges"/>
<text x="1692" y="411.6" font-size="9.3" fill="#000" stroke="#000" stroke-width="0.14" textLength="33" lengthAdjust="spacingAndGlyphs">130.360</text>
<rect x="1687" y="441" width="2" height="1" fill="#000" shape-rendering="crispEdges"/>
<text x="1692" y="444.6" font-size="9.3" fill="#000" stroke="#000" stroke-width="0.14" textLength="33" lengthAdjust="spacingAndGlyphs">129.000</text>
<rect x="1687" y="474" width="2" height="1" fill="#000" shape-rendering="crispEdges"/>
<text x="1692" y="477.5" font-size="9.3" fill="#000" stroke="#000" stroke-width="0.14" textLength="33" lengthAdjust="spacingAndGlyphs">127.640</text>
<rect x="1687" y="507" width="2" height="1" fill="#000" shape-rendering="crispEdges"/>
<text x="1692" y="510.5" font-size="9.3" fill="#000" stroke="#000" stroke-width="0.14" textLength="33" lengthAdjust="spacingAndGlyphs">126.320</text>
<rect x="1687" y="540" width="2" height="1" fill="#000" shape-rendering="crispEdges"/>
<text x="1692" y="543.5" font-size="9.3" fill="#000" stroke="#000" stroke-width="0.14" textLength="33" lengthAdjust="spacingAndGlyphs">124.960</text>
<rect x="1687" y="573" width="2" height="1" fill="#000" shape-rendering="crispEdges"/>
<text x="1692" y="576.5" font-size="9.3" fill="#000" stroke="#000" stroke-width="0.14" textLength="33" lengthAdjust="spacingAndGlyphs">123.640</text>
<rect x="1688" y="193.5" width="41" height="10.7" fill="#ff0000"/>
<text x="1692" y="202.3" font-size="9.3" fill="#fff" stroke="#fff" stroke-width="0.14" textLength="33" lengthAdjust="spacingAndGlyphs">138.866</text>
<rect x="1688" y="226.5" width="41" height="10.7" fill="#ff0000"/>
<text x="1692" y="235.3" font-size="9.3" fill="#fff" stroke="#fff" stroke-width="0.14" textLength="33" lengthAdjust="spacingAndGlyphs">137.523</text>
<rect x="1688" y="253.5" width="41" height="10.7" fill="#000000"/>
<text x="1692" y="262.3" font-size="9.3" fill="#fff" stroke="#fff" stroke-width="0.14" textLength="33" lengthAdjust="spacingAndGlyphs">136.433</text>
<rect x="1688" y="274.3" width="41" height="10.7" fill="#32cd32"/>
<text x="1692" y="283.1" font-size="9.3" fill="#fff" stroke="#fff" stroke-width="0.14" textLength="33" lengthAdjust="spacingAndGlyphs">135.569</text>
<rect x="1688" y="310.5" width="41" height="10.7" fill="#0000ff"/>
<text x="1692" y="319.3" font-size="9.3" fill="#fff" stroke="#fff" stroke-width="0.14" textLength="33" lengthAdjust="spacingAndGlyphs">134.104</text>
<rect x="1688" y="335.4" width="41" height="10.7" fill="#0000ff"/>
<text x="1692" y="344.2" font-size="9.3" fill="#fff" stroke="#fff" stroke-width="0.14" textLength="33" lengthAdjust="spacingAndGlyphs">133.086</text>
<g clip-path="url(#c2)">
<g shape-rendering="crispEdges">
<rect x="3" y="631" width="1" height="5" fill="#c0c0c0" />
<rect x="11" y="631" width="1" height="5" fill="#c0c0c0" />
<rect x="19" y="631" width="1" height="5" fill="#c0c0c0" />
<rect x="27" y="630" width="1" height="6" fill="#c0c0c0" />
<rect x="35" y="631" width="1" height="5" fill="#c0c0c0" />
<rect x="43" y="626" width="1" height="10" fill="#c0c0c0" />
<rect x="51" y="627" width="1" height="9" fill="#c0c0c0" />
<rect x="59" y="628" width="1" height="8" fill="#c0c0c0" />
<rect x="67" y="632" width="1" height="4" fill="#c0c0c0" />
<rect x="75" y="635" width="1" height="1" fill="#c0c0c0" />
<rect x="91" y="636" width="1" height="1" fill="#c0c0c0" />
<rect x="107" y="634" width="1" height="2" fill="#c0c0c0" />
<rect x="115" y="635" width="1" height="1" fill="#c0c0c0" />
<rect x="123" y="635" width="1" height="1" fill="#c0c0c0" />
<rect x="131" y="635" width="1" height="1" fill="#c0c0c0" />
<rect x="139" y="634" width="1" height="2" fill="#c0c0c0" />
<rect x="147" y="634" width="1" height="2" fill="#c0c0c0" />
<rect x="155" y="631" width="1" height="5" fill="#c0c0c0" />
<rect x="163" y="630" width="1" height="6" fill="#c0c0c0" />
<rect x="171" y="630" width="1" height="6" fill="#c0c0c0" />
<rect x="179" y="631" width="1" height="5" fill="#c0c0c0" />
<rect x="187" y="630" width="1" height="6" fill="#c0c0c0" />
<rect x="195" y="629" width="1" height="7" fill="#c0c0c0" />
<rect x="203" y="628" width="1" height="8" fill="#c0c0c0" />
<rect x="211" y="628" width="1" height="8" fill="#c0c0c0" />
<rect x="219" y="633" width="1" height="3" fill="#c0c0c0" />
<rect x="227" y="635" width="1" height="1" fill="#c0c0c0" />
<rect x="243" y="636" width="1" height="3" fill="#c0c0c0" />
<rect x="251" y="636" width="1" height="4" fill="#c0c0c0" />
<rect x="259" y="636" width="1" height="2" fill="#c0c0c0" />
<rect x="267" y="636" width="1" height="1" fill="#c0c0c0" />
<rect x="275" y="636" width="1" height="5" fill="#c0c0c0" />
<rect x="283" y="636" width="1" height="3" fill="#c0c0c0" />
<rect x="291" y="636" width="1" height="4" fill="#c0c0c0" />
<rect x="299" y="636" width="1" height="4" fill="#c0c0c0" />
<rect x="307" y="636" width="1" height="6" fill="#c0c0c0" />
<rect x="315" y="636" width="1" height="8" fill="#c0c0c0" />
<rect x="323" y="636" width="1" height="8" fill="#c0c0c0" />
<rect x="331" y="636" width="1" height="7" fill="#c0c0c0" />
<rect x="339" y="636" width="1" height="6" fill="#c0c0c0" />
<rect x="347" y="636" width="1" height="3" fill="#c0c0c0" />
<rect x="355" y="636" width="1" height="1" fill="#c0c0c0" />
<rect x="379" y="635" width="1" height="1" fill="#c0c0c0" />
<rect x="387" y="632" width="1" height="4" fill="#c0c0c0" />
<rect x="395" y="630" width="1" height="6" fill="#c0c0c0" />
<rect x="403" y="627" width="1" height="9" fill="#c0c0c0" />
<rect x="411" y="624" width="1" height="12" fill="#c0c0c0" />
<rect x="419" y="626" width="1" height="10" fill="#c0c0c0" />
<rect x="427" y="626" width="1" height="10" fill="#c0c0c0" />
<rect x="435" y="629" width="1" height="7" fill="#c0c0c0" />
<rect x="443" y="635" width="1" height="1" fill="#c0c0c0" />
<rect x="451" y="636" width="1" height="10" fill="#c0c0c0" />
<rect x="459" y="636" width="1" height="19" fill="#c0c0c0" />
<rect x="467" y="636" width="1" height="25" fill="#c0c0c0" />
<rect x="475" y="636" width="1" height="32" fill="#c0c0c0" />
<rect x="483" y="636" width="1" height="34" fill="#c0c0c0" />
<rect x="491" y="636" width="1" height="38" fill="#c0c0c0" />
<rect x="499" y="636" width="1" height="42" fill="#c0c0c0" />
<rect x="507" y="636" width="1" height="46" fill="#c0c0c0" />
<rect x="515" y="636" width="1" height="54" fill="#c0c0c0" />
<rect x="523" y="636" width="1" height="55" fill="#c0c0c0" />
<rect x="531" y="636" width="1" height="60" fill="#c0c0c0" />
<rect x="539" y="636" width="1" height="69" fill="#c0c0c0" />
<rect x="547" y="636" width="1" height="72" fill="#c0c0c0" />
<rect x="555" y="636" width="1" height="76" fill="#c0c0c0" />
<rect x="563" y="636" width="1" height="82" fill="#c0c0c0" />
<rect x="571" y="636" width="1" height="86" fill="#c0c0c0" />
<rect x="579" y="636" width="1" height="100" fill="#c0c0c0" />
<rect x="587" y="636" width="1" height="103" fill="#c0c0c0" />
<rect x="595" y="636" width="1" height="103" fill="#c0c0c0" />
<rect x="603" y="636" width="1" height="103" fill="#c0c0c0" />
<rect x="611" y="636" width="1" height="101" fill="#c0c0c0" />
<rect x="619" y="636" width="1" height="92" fill="#c0c0c0" />
<rect x="627" y="636" width="1" height="84" fill="#c0c0c0" />
<rect x="635" y="636" width="1" height="72" fill="#c0c0c0" />
<rect x="643" y="636" width="1" height="59" fill="#c0c0c0" />
<rect x="651" y="636" width="1" height="48" fill="#c0c0c0" />
<rect x="659" y="636" width="1" height="41" fill="#c0c0c0" />
<rect x="667" y="636" width="1" height="36" fill="#c0c0c0" />
<rect x="675" y="636" width="1" height="32" fill="#c0c0c0" />
<rect x="683" y="636" width="1" height="25" fill="#c0c0c0" />
<rect x="691" y="636" width="1" height="24" fill="#c0c0c0" />
<rect x="699" y="636" width="1" height="22" fill="#c0c0c0" />
<rect x="707" y="636" width="1" height="17" fill="#c0c0c0" />
<rect x="715" y="636" width="1" height="13" fill="#c0c0c0" />
<rect x="723" y="636" width="1" height="7" fill="#c0c0c0" />
<rect x="731" y="636" width="1" height="4" fill="#c0c0c0" />
<rect x="747" y="635" width="1" height="1" fill="#c0c0c0" />
<rect x="755" y="632" width="1" height="4" fill="#c0c0c0" />
<rect x="763" y="631" width="1" height="5" fill="#c0c0c0" />
<rect x="771" y="630" width="1" height="6" fill="#c0c0c0" />
<rect x="779" y="631" width="1" height="5" fill="#c0c0c0" />
<rect x="787" y="631" width="1" height="5" fill="#c0c0c0" />
<rect x="795" y="633" width="1" height="3" fill="#c0c0c0" />
<rect x="811" y="636" width="1" height="2" fill="#c0c0c0" />
<rect x="819" y="636" width="1" height="4" fill="#c0c0c0" />
<rect x="827" y="636" width="1" height="6" fill="#c0c0c0" />
<rect x="835" y="636" width="1" height="7" fill="#c0c0c0" />
<rect x="843" y="636" width="1" height="7" fill="#c0c0c0" />
<rect x="851" y="636" width="1" height="8" fill="#c0c0c0" />
<rect x="859" y="636" width="1" height="8" fill="#c0c0c0" />
<rect x="867" y="636" width="1" height="4" fill="#c0c0c0" />
<rect x="875" y="636" width="1" height="4" fill="#c0c0c0" />
<rect x="883" y="636" width="1" height="5" fill="#c0c0c0" />
<rect x="891" y="636" width="1" height="6" fill="#c0c0c0" />
<rect x="899" y="636" width="1" height="8" fill="#c0c0c0" />
<rect x="907" y="636" width="1" height="12" fill="#c0c0c0" />
<rect x="915" y="636" width="1" height="14" fill="#c0c0c0" />
<rect x="923" y="636" width="1" height="14" fill="#c0c0c0" />
<rect x="931" y="636" width="1" height="12" fill="#c0c0c0" />
<rect x="939" y="636" width="1" height="12" fill="#c0c0c0" />
<rect x="947" y="636" width="1" height="14" fill="#c0c0c0" />
<rect x="955" y="636" width="1" height="17" fill="#c0c0c0" />
<rect x="963" y="636" width="1" height="17" fill="#c0c0c0" />
<rect x="971" y="636" width="1" height="20" fill="#c0c0c0" />
<rect x="979" y="636" width="1" height="24" fill="#c0c0c0" />
<rect x="987" y="636" width="1" height="23" fill="#c0c0c0" />
<rect x="995" y="636" width="1" height="20" fill="#c0c0c0" />
<rect x="1003" y="636" width="1" height="18" fill="#c0c0c0" />
<rect x="1011" y="636" width="1" height="17" fill="#c0c0c0" />
<rect x="1019" y="636" width="1" height="17" fill="#c0c0c0" />
<rect x="1027" y="636" width="1" height="16" fill="#c0c0c0" />
<rect x="1035" y="636" width="1" height="14" fill="#c0c0c0" />
<rect x="1043" y="636" width="1" height="10" fill="#c0c0c0" />
<rect x="1051" y="636" width="1" height="8" fill="#c0c0c0" />
<rect x="1059" y="636" width="1" height="6" fill="#c0c0c0" />
<rect x="1067" y="636" width="1" height="2" fill="#c0c0c0" />
<rect x="1083" y="632" width="1" height="4" fill="#c0c0c0" />
<rect x="1091" y="622" width="1" height="14" fill="#c0c0c0" />
<rect x="1099" y="614" width="1" height="22" fill="#c0c0c0" />
<rect x="1107" y="606" width="1" height="30" fill="#c0c0c0" />
<rect x="1115" y="598" width="1" height="38" fill="#c0c0c0" />
<rect x="1123" y="590" width="1" height="46" fill="#c0c0c0" />
<rect x="1131" y="588" width="1" height="48" fill="#c0c0c0" />
<rect x="1139" y="590" width="1" height="46" fill="#c0c0c0" />
<rect x="1147" y="594" width="1" height="42" fill="#c0c0c0" />
<rect x="1155" y="601" width="1" height="35" fill="#c0c0c0" />
<rect x="1163" y="608" width="1" height="28" fill="#c0c0c0" />
<rect x="1171" y="614" width="1" height="22" fill="#c0c0c0" />
<rect x="1179" y="614" width="1" height="22" fill="#c0c0c0" />
<rect x="1187" y="617" width="1" height="19" fill="#c0c0c0" />
<rect x="1195" y="621" width="1" height="15" fill="#c0c0c0" />
<rect x="1203" y="628" width="1" height="8" fill="#c0c0c0" />
<rect x="1219" y="636" width="1" height="4" fill="#c0c0c0" />
<rect x="1227" y="636" width="1" height="4" fill="#c0c0c0" />
<rect x="1235" y="636" width="1" height="6" fill="#c0c0c0" />
<rect x="1243" y="636" width="1" height="8" fill="#c0c0c0" />
<rect x="1251" y="636" width="1" height="8" fill="#c0c0c0" />
<rect x="1259" y="636" width="1" height="11" fill="#c0c0c0" />
<rect x="1267" y="636" width="1" height="13" fill="#c0c0c0" />
<rect x="1275" y="636" width="1" height="14" fill="#c0c0c0" />
<rect x="1283" y="636" width="1" height="11" fill="#c0c0c0" />
<rect x="1291" y="636" width="1" height="9" fill="#c0c0c0" />
<rect x="1299" y="636" width="1" height="6" fill="#c0c0c0" />
<rect x="1307" y="636" width="1" height="4" fill="#c0c0c0" />
<rect x="1315" y="636" width="1" height="2" fill="#c0c0c0" />
<rect x="1323" y="636" width="1" height="1" fill="#c0c0c0" />
<rect x="1339" y="632" width="1" height="4" fill="#c0c0c0" />
<rect x="1347" y="630" width="1" height="6" fill="#c0c0c0" />
<rect x="1355" y="628" width="1" height="8" fill="#c0c0c0" />
<rect x="1363" y="628" width="1" height="8" fill="#c0c0c0" />
<rect x="1371" y="628" width="1" height="8" fill="#c0c0c0" />
<rect x="1379" y="628" width="1" height="8" fill="#c0c0c0" />
<rect x="1387" y="629" width="1" height="7" fill="#c0c0c0" />
<rect x="1395" y="629" width="1" height="7" fill="#c0c0c0" />
<rect x="1403" y="630" width="1" height="6" fill="#c0c0c0" />
<rect x="1411" y="631" width="1" height="5" fill="#c0c0c0" />
<rect x="1419" y="628" width="1" height="8" fill="#c0c0c0" />
<rect x="1427" y="626" width="1" height="10" fill="#c0c0c0" />
<rect x="1435" y="623" width="1" height="13" fill="#c0c0c0" />
</g>
<polyline points="0.0,611.5 13.8,617.2 25.4,623.0 39.2,626.5 57.7,629.2 87.7,631.1 103.9,632.9 122.3,635.0 143.1,635.0 161.6,633.4 184.6,631.5 207.7,629.5 219.3,629.2 230.8,631.1 253.9,633.4 277.0,637.3 300.0,640.3 323.1,642.6 346.2,643.3 369.3,641.5 380.0,640.3 391.5,638.5 403.1,635.7 414.6,632.9 426.2,630.6 437.7,629.5 449.2,629.9 460.8,634.1 472.3,638.5 483.9,647.2 495.4,655.3 506.9,663.9 518.5,671.5 530.0,678.9 541.6,686.0 553.1,692.7 564.7,699.6 576.2,707.3 587.7,715.3 599.3,723.4 610.8,728.5 620.0,731.0 627.0,732.0 633.9,730.3 645.4,725.7 657.0,717.6 668.5,705.6 680.1,694.6 691.6,683.0 703.1,673.3 714.7,665.2 726.2,658.8 737.8,653.0 749.3,647.2 760.9,642.6 771.5,639.2 783.0,635.2 794.6,632.2 806.2,632.2 820.0,633.4 829.2,635.7 840.8,637.3 852.3,639.2 863.9,640.8 875.4,642.2 891.6,642.2 898.5,643.3 912.3,644.2 921.6,645.4 940.0,646.1 956.2,647.9 967.7,651.4 979.3,653.7 990.8,654.2 1009.3,655.3 1020.8,656.5 1032.4,656.0 1048.5,653.0 1060.0,650.0 1071.6,646.8 1083.1,644.5 1092.4,639.9 1100.0,635.2 1106.9,631.8 1116.2,624.2 1125.4,617.2 1136.9,610.3 1146.2,603.9 1155.4,599.2 1169.2,598.3 1180.8,599.9 1192.3,602.2 1203.9,609.2 1215.4,616.8 1226.9,623.7 1238.5,629.2 1250.0,634.1 1261.6,639.9 1273.1,643.8 1284.7,646.1 1307.7,646.6 1321.6,645.6 1330.8,643.3 1342.4,640.3 1353.9,637.3 1365.4,634.5 1377.0,632.7 1388.5,630.4 1400.1,628.8 1423.1,628.3 1432.4,626.9" fill="none" stroke="#ff0000" stroke-width="1" shape-rendering="crispEdges" stroke-dasharray="3,3"/>
</g>
<text x="0" y="591" font-size="9" fill="#000" stroke="#000" stroke-width="0.14" textLength="127" lengthAdjust="spacingAndGlyphs">MACD(12,26,9) 0.4675 0.3018</text>
<text x="1691" y="589.1" font-size="9.3" fill="#000" stroke="#000" stroke-width="0.14" >1.894</text>
<text x="1691" y="639.9" font-size="9.3" fill="#000" stroke="#000" stroke-width="0.14" >0.00</text>
<text x="1691" y="744.9" font-size="9.3" fill="#000" stroke="#000" stroke-width="0.14" >-3.7183</text>
<rect x="1687" y="636" width="2" height="1" fill="#000" shape-rendering="crispEdges"/>
<rect x="1687" y="580" width="2" height="1" fill="#000" shape-rendering="crispEdges"/>
<rect x="1687" y="747" width="2" height="1" fill="#000" shape-rendering="crispEdges"/>
<g clip-path="url(#c3)">
<line x1="0" y1="786.5" x2="1686" y2="786.5" stroke="#c0c0c0" stroke-width="1" stroke-dasharray="3,3" shape-rendering="crispEdges"/>
<line x1="0" y1="837.5" x2="1686" y2="837.5" stroke="#c0c0c0" stroke-width="1" stroke-dasharray="3,3" shape-rendering="crispEdges"/>
<line x1="0" y1="898.5" x2="1686" y2="898.5" stroke="#c0c0c0" stroke-width="1" stroke-dasharray="3,3" shape-rendering="crispEdges"/>
<polyline points="-4.5,849.0 3.5,844.2 11.5,838.4 19.5,829.2 27.5,829.6 35.5,834.9 43.5,824.6 51.5,823.2 59.5,838.9 67.5,851.1 75.5,851.1 83.5,835.4 91.5,845.1 99.5,834.7 107.5,833.1 115.5,833.1 123.5,835.4 131.5,835.4 139.5,833.1 147.5,831.2 155.5,823.4 163.5,831.9 171.5,831.9 179.5,833.6 187.5,831.2 195.5,822.2 203.5,829.2 211.5,840.0 219.5,848.1 227.5,846.2 235.5,848.1 243.5,850.4 251.5,842.3 259.5,835.4 267.5,837.2 275.5,856.2 283.5,838.4 291.5,837.2 299.5,843.5 307.5,849.9 315.5,852.2 323.5,845.3 331.5,840.0 339.5,838.2 347.5,829.2 355.5,830.3 363.5,828.5 371.5,834.7 379.5,833.1 387.5,823.4 395.5,818.2 403.5,812.3 411.5,817.6 419.5,835.4 427.5,833.1 435.5,844.6 443.5,855.0 451.5,876.9 459.5,877.4 467.5,869.6 475.5,876.3 483.5,860.3 491.5,866.1 499.5,870.0 507.5,873.5 515.5,879.3 523.5,870.5 531.5,876.9 539.5,885.5 547.5,871.2 555.5,875.3 563.5,881.1 571.5,881.6 579.5,891.3 587.5,875.3 595.5,870.5 603.5,872.3 611.5,870.0 619.5,853.2 627.5,851.1 635.5,841.6 643.5,833.1 651.5,837.2 659.5,838.4 667.5,839.3 675.5,843.5 683.5,836.6 691.5,842.3 699.5,842.3 707.5,838.2 715.5,834.2 723.5,828.5 731.5,828.5 739.5,828.5 747.5,830.3 755.5,826.2 763.5,831.2 771.5,831.2 779.5,835.4 787.5,834.2 795.5,840.0 803.5,853.2 811.5,849.2 819.5,847.4 827.5,850.4 835.5,847.4 843.5,843.5 851.5,848.6 859.5,845.8 867.5,824.3 875.5,840.0 883.5,843.9 891.5,845.8 899.5,848.1 907.5,861.5 915.5,853.2 923.5,845.1 931.5,841.6 939.5,842.8 947.5,853.2 955.5,857.3 963.5,851.6 971.5,861.3 979.5,864.7 987.5,848.6 995.5,838.2 1003.5,842.3 1011.5,843.5 1019.5,848.6 1027.5,844.6 1035.5,843.5 1043.5,832.4 1051.5,835.9 1059.5,832.6 1067.5,829.6 1075.5,828.5 1083.5,816.9 1091.5,800.3 1099.5,800.3 1107.5,797.3 1115.5,791.5 1123.5,789.2 1131.5,807.2 1139.5,816.9 1147.5,826.9 1155.5,840.5 1163.5,841.6 1171.5,840.0 1179.5,828.5 1187.5,834.2 1195.5,842.3 1203.5,850.4 1211.5,855.0 1219.5,856.6 1227.5,841.6 1235.5,844.6 1243.5,847.4 1251.5,844.2 1259.5,851.6 1267.5,850.4 1275.5,849.7 1283.5,836.6 1291.5,836.1 1299.5,834.2 1307.5,833.1 1315.5,831.9 1323.5,833.6 1331.5,824.3 1339.5,821.1 1347.5,823.2 1355.5,825.0 1363.5,825.5 1371.5,831.2 1379.5,829.2 1387.5,832.4 1395.5,830.3 1403.5,836.6 1411.5,831.9 1419.5,817.6 1427.5,814.2 1435.5,810.0" fill="none" stroke="#1e90ff" stroke-width="1" shape-rendering="crispEdges" />
</g>
<text x="0" y="763" font-size="9" fill="#000" stroke="#000" stroke-width="0.14" textLength="67" lengthAdjust="spacingAndGlyphs">RSI(14) 66.3836</text>
<text x="1690" y="760.9" font-size="9.3" fill="#000" stroke="#000" stroke-width="0.14" >100</text>
<text x="1690" y="789.8" font-size="9.3" fill="#000" stroke="#000" stroke-width="0.14" >80</text>
<text x="1690" y="840.8" font-size="9.3" fill="#000" stroke="#000" stroke-width="0.14" >50</text>
<text x="1690" y="901.8" font-size="9.3" fill="#000" stroke="#000" stroke-width="0.14" >15</text>
<text x="1690" y="921.1" font-size="9.3" fill="#000" stroke="#000" stroke-width="0.14" >0</text>
<rect x="1687" y="752" width="2" height="1" fill="#000" shape-rendering="crispEdges"/>
<rect x="1687" y="923" width="2" height="1" fill="#000" shape-rendering="crispEdges"/>
<rect x="-5" y="925" width="1" height="3" fill="#000" shape-rendering="crispEdges"/>
<text x="-6" y="937.2" font-size="9.2" fill="#000" stroke="#000" stroke-width="0.14" >24 Dec 2019</text>
<rect x="59" y="925" width="1" height="3" fill="#000" shape-rendering="crispEdges"/>
<text x="58" y="937.2" font-size="9.2" fill="#000" stroke="#000" stroke-width="0.14" >2 Jan 2020</text>
<rect x="123" y="925" width="1" height="3" fill="#000" shape-rendering="crispEdges"/>
<text x="122" y="937.2" font-size="9.2" fill="#000" stroke="#000" stroke-width="0.14" >12 Jan 2020</text>
<rect x="187" y="925" width="1" height="3" fill="#000" shape-rendering="crispEdges"/>
<text x="186" y="937.2" font-size="9.2" fill="#000" stroke="#000" stroke-width="0.14" >21 Jan 2020</text>
<rect x="251" y="925" width="1" height="3" fill="#000" shape-rendering="crispEdges"/>
<text x="250" y="937.2" font-size="9.2" fill="#000" stroke="#000" stroke-width="0.14" >30 Jan 2020</text>
<rect x="315" y="925" width="1" height="3" fill="#000" shape-rendering="crispEdges"/>
<text x="314" y="937.2" font-size="9.2" fill="#000" stroke="#000" stroke-width="0.14" >9 Feb 2020</text>
<rect x="379" y="925" width="1" height="3" fill="#000" shape-rendering="crispEdges"/>
<text x="378" y="937.2" font-size="9.2" fill="#000" stroke="#000" stroke-width="0.14" >18 Feb 2020</text>
<rect x="443" y="925" width="1" height="3" fill="#000" shape-rendering="crispEdges"/>
<text x="442" y="937.2" font-size="9.2" fill="#000" stroke="#000" stroke-width="0.14" >27 Feb 2020</text>
<rect x="507" y="925" width="1" height="3" fill="#000" shape-rendering="crispEdges"/>
<text x="506" y="937.2" font-size="9.2" fill="#000" stroke="#000" stroke-width="0.14" >8 Mar 2020</text>
<rect x="571" y="925" width="1" height="3" fill="#000" shape-rendering="crispEdges"/>
<text x="570" y="937.2" font-size="9.2" fill="#000" stroke="#000" stroke-width="0.14" >17 Mar 2020</text>
<rect x="635" y="925" width="1" height="3" fill="#000" shape-rendering="crispEdges"/>
<text x="634" y="937.2" font-size="9.2" fill="#000" stroke="#000" stroke-width="0.14" >26 Mar 2020</text>
<rect x="699" y="925" width="1" height="3" fill="#000" shape-rendering="crispEdges"/>
<text x="698" y="937.2" font-size="9.2" fill="#000" stroke="#000" stroke-width="0.14" >5 Apr 2020</text>
<rect x="763" y="925" width="1" height="3" fill="#000" shape-rendering="crispEdges"/>
<text x="762" y="937.2" font-size="9.2" fill="#000" stroke="#000" stroke-width="0.14" >15 Apr 2020</text>
<rect x="827" y="925" width="1" height="3" fill="#000" shape-rendering="crispEdges"/>
<text x="826" y="937.2" font-size="9.2" fill="#000" stroke="#000" stroke-width="0.14" >24 Apr 2020</text>
<rect x="891" y="925" width="1" height="3" fill="#000" shape-rendering="crispEdges"/>
<text x="890" y="937.2" font-size="9.2" fill="#000" stroke="#000" stroke-width="0.14" >4 May 2020</text>
<rect x="955" y="925" width="1" height="3" fill="#000" shape-rendering="crispEdges"/>
<text x="954" y="937.2" font-size="9.2" fill="#000" stroke="#000" stroke-width="0.14" >13 May 2020</text>
<rect x="1019" y="925" width="1" height="3" fill="#000" shape-rendering="crispEdges"/>
<text x="1018" y="937.2" font-size="9.2" fill="#000" stroke="#000" stroke-width="0.14" >22 May 2020</text>
<rect x="1083" y="925" width="1" height="3" fill="#000" shape-rendering="crispEdges"/>
<text x="1082" y="937.2" font-size="9.2" fill="#000" stroke="#000" stroke-width="0.14" >1 Jun 2020</text>
<rect x="1147" y="925" width="1" height="3" fill="#000" shape-rendering="crispEdges"/>
<text x="1146" y="937.2" font-size="9.2" fill="#000" stroke="#000" stroke-width="0.14" >10 Jun 2020</text>
<rect x="1211" y="925" width="1" height="3" fill="#000" shape-rendering="crispEdges"/>
<text x="1210" y="937.2" font-size="9.2" fill="#000" stroke="#000" stroke-width="0.14" >19 Jun 2020</text>
<rect x="1275" y="925" width="1" height="3" fill="#000" shape-rendering="crispEdges"/>
<text x="1274" y="937.2" font-size="9.2" fill="#000" stroke="#000" stroke-width="0.14" >29 Jun 2020</text>
<rect x="1339" y="925" width="1" height="3" fill="#000" shape-rendering="crispEdges"/>
<text x="1338" y="937.2" font-size="9.2" fill="#000" stroke="#000" stroke-width="0.14" >8 Jul 2020</text>
<rect x="1403" y="925" width="1" height="3" fill="#000" shape-rendering="crispEdges"/>
<text x="1402" y="937.2" font-size="9.2" fill="#000" stroke="#000" stroke-width="0.14" >17 Jul 2020</text>
</svg>
<div id="tb"><svg width="1733" height="19" viewBox="0 0 1733 19" font-family="'Liberation Sans','Noto Sans CJK SC',sans-serif">
<rect x="-3" y="-3" width="12.5" height="16" fill="#fff" stroke="#3c78b8" stroke-width="1.4"/>
<rect x="0" y="1" width="8" height="1" fill="#b8cff0"/>
<rect x="0" y="3.5" width="8" height="1" fill="#b8cff0"/>
<rect x="0" y="6" width="8" height="1" fill="#b8cff0"/>
<rect x="0" y="8.5" width="8" height="1" fill="#b8cff0"/>
<rect x="23" y="-2" width="11.5" height="14" fill="#f6f4f0" stroke="#b8a890" stroke-width="0.8"/>
<path d="M26 2h5M26 5h5" stroke="#8090a0" stroke-width="1"/>
<circle cx="30.3" cy="8" r="4.6" fill="#cfe0f2" fill-opacity="0.85" stroke="#6f9fd8" stroke-width="1.2"/>
<rect x="29" y="6" width="2.5" height="4" fill="#9db4cc"/>
<path d="M34 11.5L39 16" stroke="#c8a020" stroke-width="2.6" stroke-linecap="round"/>
<rect x="47" y="0" width="1" height="18" fill="#a0a0a0" shape-rendering="crispEdges"/>
<path d="M57.5 -2H65L68.5 1.5V12.5H57.5Z" fill="#fff" stroke="#8a8a8a" stroke-width="0.9"/>
<path d="M60 2.5h3M60 5.5h6M60 8h6" stroke="#9a9a9a" stroke-width="1"/>
<path d="M65 5.5h4v3.5h3.5v4h-3.5v3.5h-4v-3.5h-3.5v-4h3.5z" fill="#28c028" stroke="#108010" stroke-width="0.9"/>
<text x="75.8" y="10.4" font-size="12" fill="#000">新订单</text>
<path d="M130 -1L140 6L133 15.5L124 8.5Z" fill="#e9b93a" stroke="#a8781a" stroke-width="1"/>
<path d="M126 9.5L133 15" stroke="#7a5a10" stroke-width="1.2"/>
<path d="M130 1.5L137 6.5" stroke="#f8e090" stroke-width="1.5"/>
<rect x="156.5" y="-3" width="9" height="11" fill="#3f8fe6" stroke="#2a6fc0" stroke-width="0.8"/>
<rect x="158" y="1" width="5" height="1.5" fill="#d8ecff"/>
<path d="M154.5 14.5a3 3 0 0 1 0.5-5.8a4 4 0 0 1 7-1.2a3.4 3.4 0 0 1 5 3.2a2.4 2.4 0 0 1-1 3.8z" fill="#eef3fb" stroke="#7f9fd0" stroke-width="1"/>
<circle cx="187.7" cy="6.6" r="7.6" fill="#f4f6fb" stroke="#c3cfe8" stroke-width="1.2"/>
<circle cx="187.7" cy="6.6" r="4.9" fill="#fbfcff" stroke="#7d9fdf" stroke-width="1.3"/>
<path d="M195.2 5.2A7.6 7.6 0 0 1 189.5 14" fill="none" stroke="#58b868" stroke-width="2"/>
<path d="M192.5 5.5A4.9 4.9 0 0 1 190 10.9" fill="none" stroke="#8fcf98" stroke-width="1.4"/>
<circle cx="187.7" cy="6.4" r="1.9" fill="#3468cc"/>
<path d="M188 7.5V14.8" stroke="#22a022" stroke-width="1.7"/>
<path d="M208 5.5L222 5.5L216 15.5L213 15.5Z" fill="#f3c838" stroke="#c89818" stroke-width="0.8"/>
<ellipse cx="215" cy="4" rx="8" ry="2.8" fill="#6aa8e6" stroke="#4a88c8" stroke-width="0.8"/>
<path d="M211 3.5L212.5 -2H217.5L219 3.5Z" fill="#5a9ce0"/>
<circle cx="219.7" cy="11" r="4.2" fill="#d8241a"/>
<rect x="218" y="9.3" width="3.4" height="3.4" fill="#fff"/>
<text x="228.8" y="10.4" font-size="12" fill="#000" textLength="47" lengthAdjust="spacingAndGlyphs">自动交易</text>
<rect x="283" y="0" width="1" height="18" fill="#8c8c8c" shape-rendering="crispEdges"/>
<rect x="287" y="1" width="3" height="1" fill="#b0b0b0" shape-rendering="crispEdges"/>
<rect x="287" y="3" width="3" height="1" fill="#b0b0b0" shape-rendering="crispEdges"/>
<rect x="287" y="5" width="3" height="1" fill="#b0b0b0" shape-rendering="crispEdges"/>
<rect x="287" y="7" width="3" height="1" fill="#b0b0b0" shape-rendering="crispEdges"/>
<rect x="287" y="9" width="3" height="1" fill="#b0b0b0" shape-rendering="crispEdges"/>
<rect x="287" y="11" width="3" height="1" fill="#b0b0b0" shape-rendering="crispEdges"/>
<rect x="287" y="13" width="3" height="1" fill="#b0b0b0" shape-rendering="crispEdges"/>
<rect x="287" y="15" width="3" height="1" fill="#b0b0b0" shape-rendering="crispEdges"/>
<path d="M301.5 1.5V15 M299 12.5H312" stroke="#505050" stroke-width="1.2" fill="none"/>
<path d="M299.5 3.5L301.5 1L303.5 3.5 M310 10.5L312.5 12.5L310 14.5" stroke="#505050" stroke-width="1" fill="none"/>
<path d="M308.5 2V10.5M308.5 3H311M306 9.5H308.5" stroke="#20a020" stroke-width="1.4" fill="none"/>
<rect x="321" y="0" width="1" height="18" fill="#a0a0a0" shape-rendering="crispEdges"/>
<rect x="322" y="0" width="24" height="18" fill="#f8f8f8"/>
<path d="M329.5 1.5V15 M327 12.5H340" stroke="#505050" stroke-width="1.2" fill="none"/>
<path d="M327.5 3.5L329.5 1L331.5 3.5 M338 10.5L340.5 12.5L338 14.5" stroke="#505050" stroke-width="1" fill="none"/>
<path d="M335.5 0V11" stroke="#108010" stroke-width="1"/>
<rect x="333.5" y="1" width="4" height="8" fill="#30d030" stroke="#108010" stroke-width="0.8"/>
<path d="M357.5 1.5V15 M355 12.5H368" stroke="#505050" stroke-width="1.2" fill="none"/>
<path d="M355.5 3.5L357.5 1L359.5 3.5 M366 10.5L368.5 12.5L366 14.5" stroke="#505050" stroke-width="1" fill="none"/>
<path d="M356 10C359 6 361 3.5 363 4S366 7 368.5 8.5" stroke="#30a030" stroke-width="1.3" fill="none"/>
<rect x="378" y="0" width="1" height="18" fill="#a0a0a0" shape-rendering="crispEdges"/>
<path d="M397 9.5L402 14.5" stroke="#d0a820" stroke-width="3" stroke-linecap="round"/>
<circle cx="393" cy="5" r="5.4" fill="#d4e6f8" stroke="#4f8fd8" stroke-width="1.4"/>
<path d="M390 5H396" stroke="#3f7fd0" stroke-width="1.6"/>
<path d="M393 2V8" stroke="#3f7fd0" stroke-width="1.6"/>
<path d="M425 9.5L430 14.5" stroke="#d0a820" stroke-width="3" stroke-linecap="round"/>
<circle cx="421" cy="5" r="5.4" fill="#d4e6f8" stroke="#4f8fd8" stroke-width="1.4"/>
<path d="M418 5H424" stroke="#3f7fd0" stroke-width="1.6"/>
<rect x="443.5" y="-1" width="7.5" height="7" fill="#38a838"/><rect x="452" y="-1" width="7.5" height="7" fill="#3060d8"/>
<rect x="443.5" y="7" width="7.5" height="7" fill="#3060d8"/><rect x="452" y="7" width="7.5" height="7" fill="#38a838"/>
<rect x="445" y="3" width="4.5" height="2" fill="#e8f0ff"/>
<rect x="453.5" y="3" width="4.5" height="2" fill="#e8f0ff"/>
<rect x="445" y="10.5" width="4.5" height="2" fill="#e8f0ff"/>
<rect x="453.5" y="10.5" width="4.5" height="2" fill="#e8f0ff"/>
<rect x="468" y="0" width="1" height="18" fill="#a0a0a0" shape-rendering="crispEdges"/>
<rect x="473" y="0" width="1" height="18" fill="#c8c8c8" shape-rendering="crispEdges"/>
<rect x="474" y="0" width="24" height="18" fill="#f8f8f8"/>
<path d="M481.5 1.5V15 M479 12.5H492" stroke="#505050" stroke-width="1.2" fill="none"/>
<path d="M479.5 3.5L481.5 1L483.5 3.5 M490 10.5L492.5 12.5L490 14.5" stroke="#505050" stroke-width="1" fill="none"/>
<polygon points="486,3 490.5,6.3 486,9.6" fill="#30c030" stroke="#108010" stroke-width="0.6"/>
<rect x="501" y="0" width="1" height="18" fill="#a0a0a0" shape-rendering="crispEdges"/>
<rect x="502" y="0" width="24" height="18" fill="#f8f8f8"/>
<path d="M509.5 1.5V15 M507 12.5H520" stroke="#505050" stroke-width="1.2" fill="none"/>
<path d="M507.5 3.5L509.5 1L511.5 3.5 M518 10.5L520.5 12.5L518 14.5" stroke="#505050" stroke-width="1" fill="none"/>
<path d="M515.5 1V11.5" stroke="#2060b0" stroke-width="1.2"/>
<path d="M521 6.3H517 M519 4L516.5 6.3L519 8.6" stroke="#e05010" stroke-width="1.2" fill="none"/>
<rect x="530" y="0" width="1" height="18" fill="#a0a0a0" shape-rendering="crispEdges"/>
<path d="M540.5 -2H548L551.5 1.5V12H540.5Z" fill="#fff" stroke="#8a8a8a" stroke-width="0.9"/>
<path d="M543 3v6" stroke="#707070" stroke-width="1"/>
<path d="M548 5.5h4v3.5h3.5v4h-3.5v3.5h-4v-3.5h-3.5v-4h3.5z" fill="#28c028" stroke="#108010" stroke-width="0.9"/>
<polygon points="561,6 567.5,6 564.25,9.5" fill="#000"/>
<circle cx="586" cy="6.5" r="6.7" fill="#f4f8ff" stroke="#2464c8" stroke-width="2.8"/>
<path d="M586 3V7H589" stroke="#606060" stroke-width="1.1" fill="none"/>
<polygon points="600.5,6 607.0,6 603.75,9.5" fill="#000"/>
<rect x="617.5" y="-1" width="15" height="14" fill="#fff" stroke="#3f7fd0" stroke-width="1.2"/>
<rect x="618" y="-1" width="14" height="3" fill="#4f8fe0"/>
<path d="M619.5 6.5L623 5.5L626 6L630.5 4" stroke="#c03020" stroke-width="1.2" fill="none"/>
<path d="M619.5 11L623 9.5L626 10.8L630.5 9" stroke="#30a030" stroke-width="1.2" fill="none"/>
<polygon points="639.5,6 646.0,6 642.75,9.5" fill="#000"/>
<rect x="651" y="0" width="1" height="18" fill="#8c8c8c" shape-rendering="crispEdges"/>
<rect x="655" y="1" width="3" height="1" fill="#b0b0b0" shape-rendering="crispEdges"/>
<rect x="655" y="3" width="3" height="1" fill="#b0b0b0" shape-rendering="crispEdges"/>
<rect x="655" y="5" width="3" height="1" fill="#b0b0b0" shape-rendering="crispEdges"/>
<rect x="655" y="7" width="3" height="1" fill="#b0b0b0" shape-rendering="crispEdges"/>
<rect x="655" y="9" width="3" height="1" fill="#b0b0b0" shape-rendering="crispEdges"/>
<rect x="655" y="11" width="3" height="1" fill="#b0b0b0" shape-rendering="crispEdges"/>
<rect x="655" y="13" width="3" height="1" fill="#b0b0b0" shape-rendering="crispEdges"/>
<rect x="655" y="15" width="3" height="1" fill="#b0b0b0" shape-rendering="crispEdges"/>
<rect x="661" y="0" width="1" height="18" fill="#c8c8c8" shape-rendering="crispEdges"/>
<rect x="662" y="0" width="24" height="18" fill="#f8f8f8"/>
<path d="M669 -1V12L672 9.2L674.5 14.5L676.8 13.5L674.3 8.3L678 8Z" fill="#505050"/>
<path d="M701.5 0V6M701.5 9V15M694 7.5H700M703 7.5H709" stroke="#505050" stroke-width="1"/>
<rect x="718" y="0" width="1" height="18" fill="#a0a0a0" shape-rendering="crispEdges"/>
<path d="M735.5 1V14" stroke="#505050" stroke-width="1.2"/>
<path d="M758 7.5H770" stroke="#505050" stroke-width="1.2"/>
<path d="M786 14L798 1.5" stroke="#505050" stroke-width="1.2"/>
<path d="M812 12L824 0M815 14.5L827 2.5M813.5 7.5h10M814 10.5l8-8M817.5 11.5l8-8" stroke="#505050" stroke-width="1" fill="none"/>
<text x="822.5" y="16.5" font-size="7" font-weight="bold" fill="#404040">E</text>
<path d="M841 0.5H854.5" stroke="#505050" stroke-width="1" stroke-dasharray="1,1"/>
<path d="M841 3.5H854.5" stroke="#505050" stroke-width="1" stroke-dasharray="1,1"/>
<path d="M841 7.5H854.5" stroke="#505050" stroke-width="1" stroke-dasharray="1,1"/>
<path d="M841 11.5H854.5" stroke="#505050" stroke-width="1" stroke-dasharray="1,1"/>
<text x="850.5" y="16.5" font-size="7" font-weight="bold" fill="#404040">F</text>
<text x="871.5" y="12" font-size="12.5" fill="#505050" stroke="#505050" stroke-width="0.35">A</text>
<rect x="898.5" y="0.5" width="11" height="13.5" fill="none" stroke="#505050" stroke-width="1" stroke-dasharray="1,1"/>
<text x="900.3" y="12" font-size="11.5" font-weight="bold" fill="#505050">T</text>
<polygon points="928.5,1 932,4.5 925,4.5" fill="#505050"/><polygon points="935,14 938.5,10.5 931.5,10.5" fill="#505050"/>
<path d="M927 7.5L929.5 10L934.5 5" stroke="#505050" stroke-width="1.3" fill="none"/>
<polygon points="945.5,6 952.0,6 948.75,9.5" fill="#000"/>
<rect x="957" y="0" width="1" height="18" fill="#8c8c8c" shape-rendering="crispEdges"/>
<rect x="961" y="1" width="3" height="1" fill="#b0b0b0" shape-rendering="crispEdges"/>
<rect x="961" y="3" width="3" height="1" fill="#b0b0b0" shape-rendering="crispEdges"/>
<rect x="961" y="5" width="3" height="1" fill="#b0b0b0" shape-rendering="crispEdges"/>
<rect x="961" y="7" width="3" height="1" fill="#b0b0b0" shape-rendering="crispEdges"/>
<rect x="961" y="9" width="3" height="1" fill="#b0b0b0" shape-rendering="crispEdges"/>
<rect x="961" y="11" width="3" height="1" fill="#b0b0b0" shape-rendering="crispEdges"/>
<rect x="961" y="13" width="3" height="1" fill="#b0b0b0" shape-rendering="crispEdges"/>
<rect x="961" y="15" width="3" height="1" fill="#b0b0b0" shape-rendering="crispEdges"/>
<rect x="1136" y="0" width="24" height="18" fill="#f8f8f8"/>
<rect x="1135" y="0" width="1" height="18" fill="#a0a0a0" shape-rendering="crispEdges"/>
<text x="979" y="10.8" font-size="9.3" fill="#404040" text-anchor="middle">M1</text>
<text x="1006.8" y="10.8" font-size="9.3" fill="#404040" text-anchor="middle">M5</text>
<text x="1035" y="10.8" font-size="9.3" fill="#404040" text-anchor="middle">M15</text>
<text x="1063.3" y="10.8" font-size="9.3" fill="#404040" text-anchor="middle">M30</text>
<text x="1091.3" y="10.8" font-size="9.3" fill="#404040" text-anchor="middle">H1</text>
<text x="1118.6" y="10.8" font-size="9.3" fill="#404040" text-anchor="middle">H4</text>
<text x="1147.5" y="10.8" font-size="9.3" fill="#404040" text-anchor="middle">D1</text>
<text x="1176" y="10.8" font-size="9.3" fill="#404040" text-anchor="middle">W1</text>
<text x="1202.8" y="10.8" font-size="9.3" fill="#404040" text-anchor="middle">MN</text>
<rect x="1218" y="0" width="1" height="18" fill="#a0a0a0" shape-rendering="crispEdges"/>
<circle cx="1689.5" cy="3.5" r="3.6" fill="#fff" stroke="#2a6fd0" stroke-width="1.6"/>
<path d="M1686.8 6.5L1681.5 11.5" stroke="#2a6fd0" stroke-width="2" stroke-linecap="round"/>
<ellipse cx="1721" cy="3" rx="5.5" ry="4.5" fill="#e4e4e4" stroke="#9a9a9a" stroke-width="0.9"/>
<ellipse cx="1712.5" cy="8" rx="4.8" ry="3.8" fill="#f4f4f4" stroke="#8e8e8e" stroke-width="0.9"/>
<path d="M1710 11L1709.5 13.5L1713 11.5" fill="#fbfbfb" stroke="#a8a8a8" stroke-width="0.8"/>
<path d="M1723 7L1725.5 9.5L1720.5 7.5" fill="#f4f4f4" stroke="#b0b0b0" stroke-width="0.8"/>
</svg></div><div id="tb0"></div><div id="tb1"></div><div id="tb2"></div>
<div id="panel" style="position:absolute;left:0;top:43px;width:217px;height:64px;color:#fff;">
<div style="position:absolute;left:0;top:-2px;width:219px;height:68px;background:#fff"></div>
<div style="position:absolute;left:0;top:0;width:50px;height:24px;background:linear-gradient(#5858f6,#3c3ce2)"></div>
<div style="position:absolute;left:165px;top:0;width:52px;height:24px;background:linear-gradient(#5858f6,#3c3ce2)"></div>
<div style="position:absolute;left:0;top:24px;width:107px;height:40px;background:linear-gradient(#3c3cdc 0%,#2a2ace 45%,#0606a6 100%)"></div>
<div style="position:absolute;left:109px;top:24px;width:108px;height:40px;background:linear-gradient(#3c3cdc 0%,#2a2ace 45%,#0606a6 100%)"></div>
<div style="position:absolute;left:2px;top:23px;width:44px;height:1px;background:#2626b8"></div><div style="position:absolute;left:2px;top:24px;width:44px;height:1px;background:#8484f4"></div>
<div style="position:absolute;left:169px;top:23px;width:44px;height:1px;background:#2626b8"></div><div style="position:absolute;left:169px;top:24px;width:44px;height:1px;background:#8484f4"></div>
<div style="position:absolute;left:10.5px;top:4px;font-size:12.3px;line-height:14px;transform-origin:0 0;transform:scaleX(0.84)">SELL</div>
<div style="position:absolute;left:178.5px;top:4px;font-size:12.3px;line-height:14px;transform-origin:0 0;transform:scaleX(0.9)">BUY</div>
<div style="position:absolute;left:52px;top:1px;width:110px;height:19px;border:1px solid #acacac;background:#fff"></div>
<div style="position:absolute;left:53px;top:2px;width:19px;height:19px;background:linear-gradient(#f4f4f4 0%,#e6e6e6 48%,#d2d2d2 52%,#c8c8c8 100%);border-right:1px solid #b8b8b8"></div>
<div style="position:absolute;left:142px;top:2px;width:20px;height:19px;background:linear-gradient(#f4f4f4 0%,#e6e6e6 48%,#d2d2d2 52%,#c8c8c8 100%);border-left:1px solid #b8b8b8"></div>
<div style="position:absolute;left:59px;top:9px;width:0;height:0;border-left:3px solid transparent;border-right:3px solid transparent;border-top:4px solid #5a5ac8"></div>
<div style="position:absolute;left:149px;top:8px;width:0;height:0;border-left:3px solid transparent;border-right:3px solid transparent;border-bottom:4px solid #5a5ac8"></div>
<div style="position:absolute;left:80px;top:4px;width:58px;text-align:right;font-size:12.5px;line-height:15px;color:#000">1.00</div>
<div style="position:absolute;left:21px;top:44px;font-size:12.5px;line-height:14px;font-weight:bold">136</div>
<div style="position:absolute;left:45px;top:21px;font-size:33.6px;line-height:44px;letter-spacing:-1px;transform-origin:0 0;transform:scaleX(0.95)">43</div>
<div style="position:absolute;left:85.7px;top:29px;font-size:11.5px;line-height:12px;font-weight:bold">3</div>
<div style="position:absolute;left:131px;top:44px;font-size:12.5px;line-height:14px;font-weight:bold">136</div>
<div style="position:absolute;left:155px;top:21px;font-size:33.6px;line-height:44px;letter-spacing:-1px;transform-origin:0 0;transform:scaleX(0.95)">49</div>
<div style="position:absolute;left:195.7px;top:29px;font-size:11.5px;line-height:12px;font-weight:bold">2</div>
</div>

</body></html>
